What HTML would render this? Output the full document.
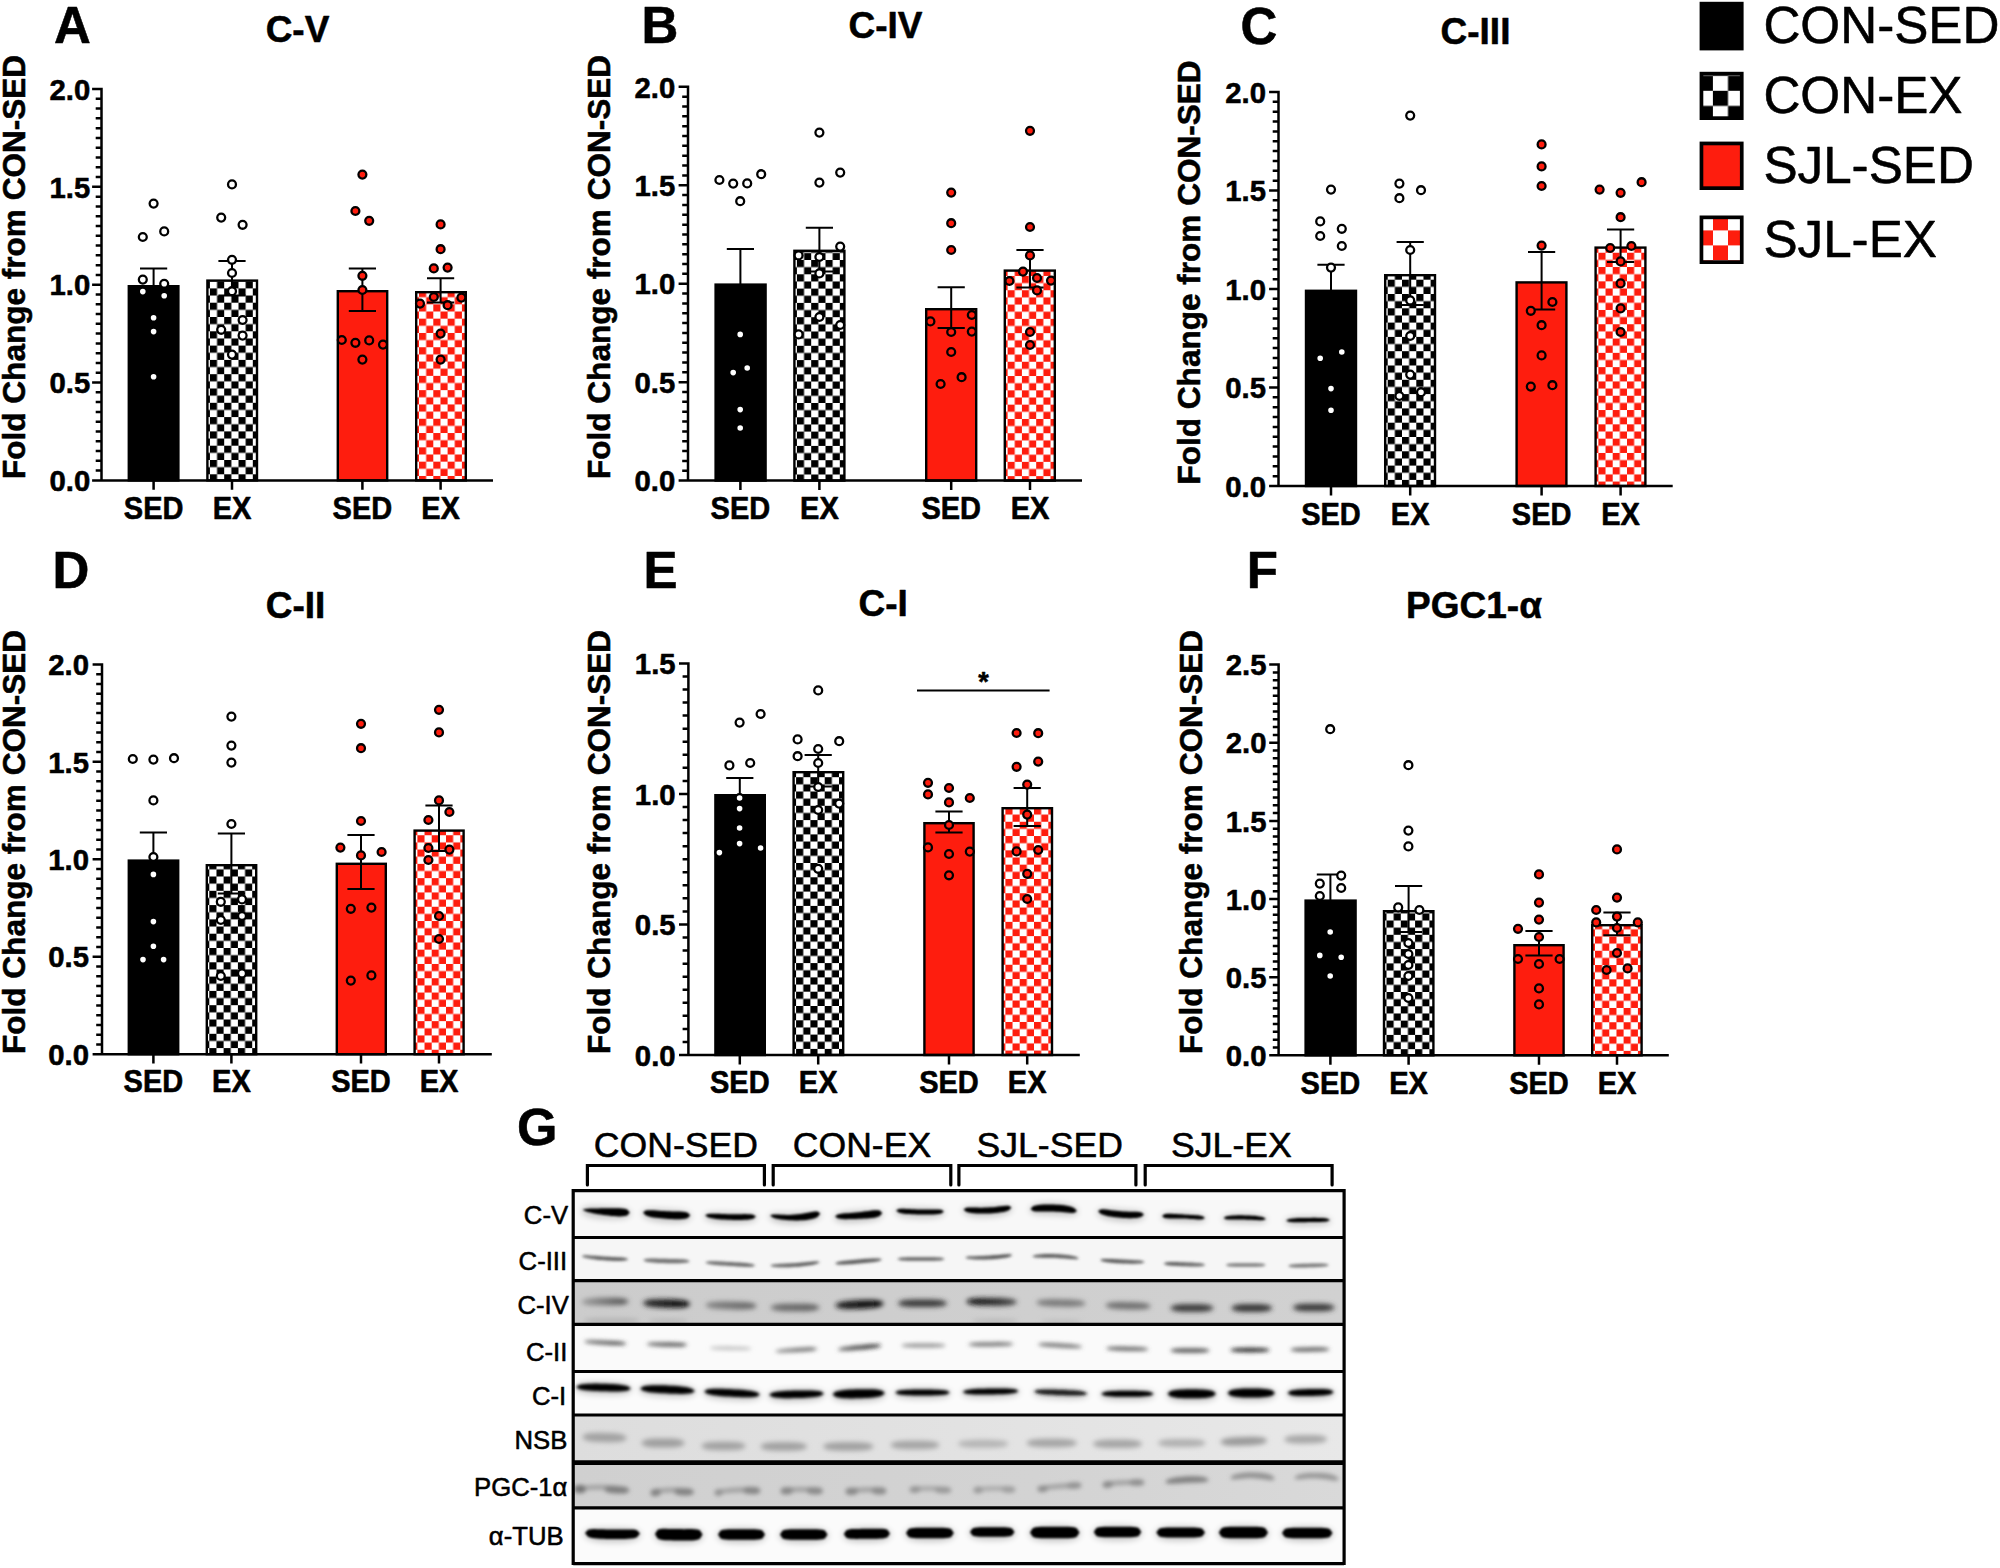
<!DOCTYPE html>
<html lang="en">
<head>
<meta charset="utf-8">
<title>Figure</title>
<style>
html,body{margin:0;padding:0;background:#fff;}
svg{display:block;font-family:"Liberation Sans", Arial, Helvetica, sans-serif;fill:#000;}
text{stroke:#000;stroke-width:0.55px;stroke-linejoin:round;}
</style>
</head>
<body>
<svg width="2000" height="1568" viewBox="0 0 2000 1568">
<rect width="2000" height="1568" fill="#fff"/>
<defs>
<pattern id="ck1" patternUnits="userSpaceOnUse" x="209.9" y="474.3" width="14.3" height="14.3"><rect width="14.3" height="14.3" fill="#fff"/><rect x="0" y="0" width="7.15" height="7.15" fill="#000"/><rect x="7.15" y="7.15" width="7.15" height="7.15" fill="#000"/></pattern>
<pattern id="ck2" patternUnits="userSpaceOnUse" x="419" y="475.95" width="14.3" height="14.3"><rect width="14.3" height="14.3" fill="#fff"/><rect x="0" y="0" width="7.15" height="7.15" fill="#fe1d0e"/><rect x="7.15" y="7.15" width="7.15" height="7.15" fill="#fe1d0e"/></pattern>
<pattern id="ck3" patternUnits="userSpaceOnUse" x="796.9" y="474.5" width="14.3" height="14.3"><rect width="14.3" height="14.3" fill="#fff"/><rect x="0" y="0" width="7.15" height="7.15" fill="#000"/><rect x="7.15" y="7.15" width="7.15" height="7.15" fill="#000"/></pattern>
<pattern id="ck4" patternUnits="userSpaceOnUse" x="1007.6" y="476.15" width="14.3" height="14.3"><rect width="14.3" height="14.3" fill="#fff"/><rect x="0" y="0" width="7.15" height="7.15" fill="#fe1d0e"/><rect x="7.15" y="7.15" width="7.15" height="7.15" fill="#fe1d0e"/></pattern>
<pattern id="ck5" patternUnits="userSpaceOnUse" x="1387.7" y="479.9" width="14.3" height="14.3"><rect width="14.3" height="14.3" fill="#fff"/><rect x="0" y="0" width="7.15" height="7.15" fill="#000"/><rect x="7.15" y="7.15" width="7.15" height="7.15" fill="#000"/></pattern>
<pattern id="ck6" patternUnits="userSpaceOnUse" x="1598.4" y="481.55" width="14.3" height="14.3"><rect width="14.3" height="14.3" fill="#fff"/><rect x="0" y="0" width="7.15" height="7.15" fill="#fe1d0e"/><rect x="7.15" y="7.15" width="7.15" height="7.15" fill="#fe1d0e"/></pattern>
<pattern id="ck7" patternUnits="userSpaceOnUse" x="209.3" y="1048.1" width="14.3" height="14.3"><rect width="14.3" height="14.3" fill="#fff"/><rect x="0" y="0" width="7.15" height="7.15" fill="#000"/><rect x="7.15" y="7.15" width="7.15" height="7.15" fill="#000"/></pattern>
<pattern id="ck8" patternUnits="userSpaceOnUse" x="417.4" y="1049.75" width="14.3" height="14.3"><rect width="14.3" height="14.3" fill="#fff"/><rect x="0" y="0" width="7.15" height="7.15" fill="#fe1d0e"/><rect x="7.15" y="7.15" width="7.15" height="7.15" fill="#fe1d0e"/></pattern>
<pattern id="ck9" patternUnits="userSpaceOnUse" x="796.1" y="1048.9" width="14.3" height="14.3"><rect width="14.3" height="14.3" fill="#fff"/><rect x="0" y="0" width="7.15" height="7.15" fill="#000"/><rect x="7.15" y="7.15" width="7.15" height="7.15" fill="#000"/></pattern>
<pattern id="ck10" patternUnits="userSpaceOnUse" x="1005.4" y="1050.55" width="14.3" height="14.3"><rect width="14.3" height="14.3" fill="#fff"/><rect x="0" y="0" width="7.15" height="7.15" fill="#fe1d0e"/><rect x="7.15" y="7.15" width="7.15" height="7.15" fill="#fe1d0e"/></pattern>
<pattern id="ck11" patternUnits="userSpaceOnUse" x="1386.5" y="1049.2" width="14.3" height="14.3"><rect width="14.3" height="14.3" fill="#fff"/><rect x="0" y="0" width="7.15" height="7.15" fill="#000"/><rect x="7.15" y="7.15" width="7.15" height="7.15" fill="#000"/></pattern>
<pattern id="ck12" patternUnits="userSpaceOnUse" x="1595" y="1050.85" width="14.3" height="14.3"><rect width="14.3" height="14.3" fill="#fff"/><rect x="0" y="0" width="7.15" height="7.15" fill="#fe1d0e"/><rect x="7.15" y="7.15" width="7.15" height="7.15" fill="#fe1d0e"/></pattern>
<pattern id="ck13" patternUnits="userSpaceOnUse" x="1712.9" y="90.8" width="30.2" height="30.2"><rect width="30.2" height="30.2" fill="#fff"/><rect x="0" y="0" width="15.1" height="15.1" fill="#000"/><rect x="15.1" y="15.1" width="15.1" height="15.1" fill="#000"/></pattern>
<pattern id="ck14" patternUnits="userSpaceOnUse" x="1713" y="215.4" width="30" height="30"><rect width="30" height="30" fill="#fff"/><rect x="0" y="0" width="15" height="15" fill="#fe1d0e"/><rect x="15" y="15" width="15" height="15" fill="#fe1d0e"/></pattern>
<filter id="bl0" filterUnits="userSpaceOnUse" x="540" y="1170" width="840" height="400"><feGaussianBlur stdDeviation="1.25"/></filter>
<clipPath id="rc0"><rect x="573.2" y="1190.6" width="770.9" height="46.9"/></clipPath>
<filter id="bl1" filterUnits="userSpaceOnUse" x="540" y="1170" width="840" height="400"><feGaussianBlur stdDeviation="3.2"/></filter>
<filter id="bl2" filterUnits="userSpaceOnUse" x="540" y="1170" width="840" height="400"><feGaussianBlur stdDeviation="1.6"/></filter>
<clipPath id="rc1"><rect x="573.2" y="1237.5" width="770.9" height="43.2"/></clipPath>
<linearGradient id="bg1" gradientUnits="userSpaceOnUse" x1="581.5" x2="628.5" y1="0" y2="0"><stop offset="0" stop-color="#676767"/><stop offset="1" stop-color="#464646"/></linearGradient>
<linearGradient id="bg2" gradientUnits="userSpaceOnUse" x1="705" x2="755.5" y1="0" y2="0"><stop offset="0" stop-color="#707070"/><stop offset="1" stop-color="#5e5e5e"/></linearGradient>
<linearGradient id="bg3" gradientUnits="userSpaceOnUse" x1="770" x2="820" y1="0" y2="0"><stop offset="0" stop-color="#6e6e6e"/><stop offset="1" stop-color="#4c4c4c"/></linearGradient>
<linearGradient id="bg4" gradientUnits="userSpaceOnUse" x1="965" x2="1012.5" y1="0" y2="0"><stop offset="0" stop-color="#696969"/><stop offset="1" stop-color="#3b3b3b"/></linearGradient>
<linearGradient id="bg5" gradientUnits="userSpaceOnUse" x1="1100" x2="1145" y1="0" y2="0"><stop offset="0" stop-color="#4c4c4c"/><stop offset="1" stop-color="#646464"/></linearGradient>
<linearGradient id="bg6" gradientUnits="userSpaceOnUse" x1="1163.5" x2="1205.5" y1="0" y2="0"><stop offset="0" stop-color="#545454"/><stop offset="1" stop-color="#707070"/></linearGradient>
<filter id="bl3" filterUnits="userSpaceOnUse" x="540" y="1170" width="840" height="400"><feGaussianBlur stdDeviation="2.5"/></filter>
<clipPath id="rc2"><rect x="573.2" y="1280.7" width="770.9" height="43.6"/></clipPath>
<linearGradient id="bg7" gradientUnits="userSpaceOnUse" x1="581" x2="629" y1="0" y2="0"><stop offset="0" stop-color="#9e9e9e"/><stop offset="1" stop-color="#4e4e4e"/></linearGradient>
<linearGradient id="bg8" gradientUnits="userSpaceOnUse" x1="642.5" x2="690.5" y1="0" y2="0"><stop offset="0" stop-color="#2e2e2e"/><stop offset="1" stop-color="#000000"/></linearGradient>
<linearGradient id="bg9" gradientUnits="userSpaceOnUse" x1="705" x2="757" y1="0" y2="0"><stop offset="0" stop-color="#858585"/><stop offset="1" stop-color="#626262"/></linearGradient>
<linearGradient id="bg10" gradientUnits="userSpaceOnUse" x1="770" x2="820" y1="0" y2="0"><stop offset="0" stop-color="#707070"/><stop offset="1" stop-color="#606060"/></linearGradient>
<linearGradient id="bg11" gradientUnits="userSpaceOnUse" x1="835" x2="884" y1="0" y2="0"><stop offset="0" stop-color="#212121"/><stop offset="1" stop-color="#000000"/></linearGradient>
<linearGradient id="bg12" gradientUnits="userSpaceOnUse" x1="966" x2="1017.5" y1="0" y2="0"><stop offset="0" stop-color="#070707"/><stop offset="1" stop-color="#474747"/></linearGradient>
<filter id="bl4" filterUnits="userSpaceOnUse" x="540" y="1170" width="840" height="400"><feGaussianBlur stdDeviation="2.0"/></filter>
<clipPath id="rc3"><rect x="573.2" y="1324.3" width="770.9" height="47.2"/></clipPath>
<linearGradient id="bg13" gradientUnits="userSpaceOnUse" x1="583.8" x2="626.5" y1="0" y2="0"><stop offset="0" stop-color="#717171"/><stop offset="1" stop-color="#3a3a3a"/></linearGradient>
<linearGradient id="bg14" gradientUnits="userSpaceOnUse" x1="646.5" x2="687.5" y1="0" y2="0"><stop offset="0" stop-color="#6a6a6a"/><stop offset="1" stop-color="#444444"/></linearGradient>
<linearGradient id="bg15" gradientUnits="userSpaceOnUse" x1="775" x2="817.5" y1="0" y2="0"><stop offset="0" stop-color="#8f8f8f"/><stop offset="1" stop-color="#525252"/></linearGradient>
<linearGradient id="bg16" gradientUnits="userSpaceOnUse" x1="837.5" x2="881.5" y1="0" y2="0"><stop offset="0" stop-color="#646464"/><stop offset="1" stop-color="#202020"/></linearGradient>
<filter id="bl5" filterUnits="userSpaceOnUse" x="540" y="1170" width="840" height="400"><feGaussianBlur stdDeviation="1.4"/></filter>
<clipPath id="rc4"><rect x="573.2" y="1371.5" width="770.9" height="43.5"/></clipPath>
<filter id="bl6" filterUnits="userSpaceOnUse" x="540" y="1170" width="840" height="400"><feGaussianBlur stdDeviation="2.9"/></filter>
<clipPath id="rc5"><rect x="573.2" y="1415" width="770.9" height="47.7"/></clipPath>
<filter id="bl7" filterUnits="userSpaceOnUse" x="540" y="1170" width="840" height="400"><feGaussianBlur stdDeviation="2.1"/></filter>
<clipPath id="rc6"><rect x="573.2" y="1462.7" width="770.9" height="45.1"/></clipPath>
<filter id="bl8" filterUnits="userSpaceOnUse" x="540" y="1170" width="840" height="400"><feGaussianBlur stdDeviation="1.2"/></filter>
<clipPath id="rc7"><rect x="573.2" y="1507.8" width="770.9" height="55.8"/></clipPath>
</defs>
<g id="panelA">
<rect x="128.8" y="286.2" width="49.6" height="194.2" fill="#000" stroke="#000" stroke-width="2.4"/>
<rect x="207.4" y="280.6" width="49.6" height="199.8" fill="url(#ck1)" stroke="#000" stroke-width="2.4"/>
<rect x="337.8" y="291.2" width="49.4" height="189.2" fill="#fe1d0e" stroke="#000" stroke-width="2.4"/>
<rect x="416.2" y="292.2" width="49.6" height="188.2" fill="url(#ck2)" stroke="#000" stroke-width="2.4"/>
<path d="M153.6 286V268.4M140 268.4H167.2M232 295.6V261M218.4 261H245.6M218.4 295.6H245.6M362.4 311V268.4M348.8 268.4H376M348.8 311H376M440.6 302.4V278.2M427 278.2H454.2M427 302.4H454.2" fill="none" stroke="#000" stroke-width="2.0"/>
<path d="M101.5 87.75V480.4M92.1 480.4H493M101.5 470.61h-5.8M101.5 460.83h-5.8M101.5 451.04h-5.8M101.5 441.26h-5.8M101.5 431.47h-5.8M101.5 421.69h-5.8M101.5 411.9h-5.8M101.5 402.12h-5.8M101.5 392.33h-5.8M101.5 382.55h-9.4M101.5 372.76h-5.8M101.5 362.98h-5.8M101.5 353.19h-5.8M101.5 343.41h-5.8M101.5 333.62h-5.8M101.5 323.84h-5.8M101.5 314.05h-5.8M101.5 304.27h-5.8M101.5 294.49h-5.8M101.5 284.7h-9.4M101.5 274.91h-5.8M101.5 265.13h-5.8M101.5 255.34h-5.8M101.5 245.56h-5.8M101.5 235.77h-5.8M101.5 225.99h-5.8M101.5 216.2h-5.8M101.5 206.42h-5.8M101.5 196.63h-5.8M101.5 186.85h-9.4M101.5 177.06h-5.8M101.5 167.28h-5.8M101.5 157.49h-5.8M101.5 147.71h-5.8M101.5 137.93h-5.8M101.5 128.14h-5.8M101.5 118.35h-5.8M101.5 108.57h-5.8M101.5 98.78h-5.8M101.5 89h-9.4M153.6 480.4v9.4M232 480.4v9.4M362.4 480.4v9.4M440.6 480.4v9.4" fill="none" stroke="#000" stroke-width="2.5"/>
<g fill="#fff" stroke="#000" stroke-width="2.3"><circle cx="153.6" cy="203.6" r="3.95"/><circle cx="142.8" cy="237" r="3.95"/><circle cx="164.2" cy="231.4" r="3.95"/><circle cx="142.8" cy="279.6" r="3.95"/><circle cx="164.2" cy="283.8" r="3.95"/><circle cx="142.8" cy="291.6" r="3.95"/><circle cx="164.2" cy="295.8" r="3.95"/><circle cx="153.6" cy="317.8" r="3.95"/><circle cx="153.6" cy="331.6" r="3.95"/><circle cx="153.6" cy="376.8" r="3.95"/></g>
<g fill="#fff" stroke="#000" stroke-width="2.3"><circle cx="232" cy="184.4" r="3.95"/><circle cx="221.2" cy="217.6" r="3.95"/><circle cx="242.6" cy="224.8" r="3.95"/><circle cx="232" cy="259.8" r="3.95"/><circle cx="232" cy="273" r="3.95"/><circle cx="232" cy="291.2" r="3.95"/><circle cx="242.6" cy="320" r="3.95"/><circle cx="221.2" cy="329.8" r="3.95"/><circle cx="242.6" cy="335.6" r="3.95"/><circle cx="232" cy="354.6" r="3.95"/></g>
<g fill="#fe1d0e" stroke="#000" stroke-width="2.3"><circle cx="362.4" cy="174.6" r="3.95"/><circle cx="355.4" cy="211" r="3.95"/><circle cx="369.2" cy="220.8" r="3.95"/><circle cx="362.4" cy="275.8" r="3.95"/><circle cx="362.4" cy="290" r="3.95"/><circle cx="341.8" cy="340" r="3.95"/><circle cx="355.4" cy="342.8" r="3.95"/><circle cx="369.2" cy="340.4" r="3.95"/><circle cx="383" cy="344.6" r="3.95"/><circle cx="362.4" cy="359.6" r="3.95"/></g>
<g fill="#fe1d0e" stroke="#000" stroke-width="2.3"><circle cx="440.6" cy="224.4" r="3.95"/><circle cx="440.6" cy="249.2" r="3.95"/><circle cx="433.8" cy="268.4" r="3.95"/><circle cx="447.6" cy="267.6" r="3.95"/><circle cx="433.8" cy="297" r="3.95"/><circle cx="461.4" cy="297.6" r="3.95"/><circle cx="420" cy="303.6" r="3.95"/><circle cx="447.6" cy="305.2" r="3.95"/><circle cx="440.6" cy="333.6" r="3.95"/><circle cx="440.6" cy="359.6" r="3.95"/></g>
<g font-size="29.3" font-weight="bold" text-anchor="end">
<text transform="translate(90.3 491.1) scale(1 1.03)">0.0</text>
<text transform="translate(90.3 393.25) scale(1 1.03)">0.5</text>
<text transform="translate(90.3 295.4) scale(1 1.03)">1.0</text>
<text transform="translate(90.3 197.55) scale(1 1.03)">1.5</text>
<text transform="translate(90.3 99.7) scale(1 1.03)">2.0</text>
</g>
<g font-size="29.0" font-weight="bold" text-anchor="middle">
<text transform="translate(153.6 518.7) scale(1 1.05)">SED</text>
<text transform="translate(232 518.7) scale(1 1.05)">EX</text>
<text transform="translate(362.4 518.7) scale(1 1.05)">SED</text>
<text transform="translate(440.6 518.7) scale(1 1.05)">EX</text>
</g>
<text transform="translate(24.8 479) rotate(-90)" font-size="31.55" font-weight="bold">Fold Change from CON-SED</text>
<text x="297.5" y="42" font-size="37.0" font-weight="bold" text-anchor="middle">C-V</text>
<text x="54" y="43" font-size="51.0" font-weight="bold">A</text>
</g>
<g id="panelB">
<rect x="715.6" y="284.6" width="50" height="196" fill="#000" stroke="#000" stroke-width="2.4"/>
<rect x="794.4" y="250.8" width="50" height="229.8" fill="url(#ck3)" stroke="#000" stroke-width="2.4"/>
<rect x="926.2" y="309.2" width="50" height="171.4" fill="#fe1d0e" stroke="#000" stroke-width="2.4"/>
<rect x="1004.8" y="270.6" width="50" height="210" fill="url(#ck4)" stroke="#000" stroke-width="2.4"/>
<path d="M740.4 284.4V249M726.8 249H754M819.4 271.4V227.8M805.8 227.8H833M805.8 271.4H833M951.2 328V287.2M937.6 287.2H964.8M937.6 328H964.8M1030 287.6V250M1016.4 250H1043.6M1016.4 287.6H1043.6" fill="none" stroke="#000" stroke-width="2.0"/>
<path d="M688 85.55V480.6M678.6 480.6H1082M688 470.75h-5.8M688 460.91h-5.8M688 451.06h-5.8M688 441.22h-5.8M688 431.38h-5.8M688 421.53h-5.8M688 411.69h-5.8M688 401.84h-5.8M688 392h-5.8M688 382.15h-9.4M688 372.31h-5.8M688 362.46h-5.8M688 352.62h-5.8M688 342.77h-5.8M688 332.93h-5.8M688 323.08h-5.8M688 313.24h-5.8M688 303.39h-5.8M688 293.55h-5.8M688 283.7h-9.4M688 273.86h-5.8M688 264.01h-5.8M688 254.16h-5.8M688 244.32h-5.8M688 234.48h-5.8M688 224.63h-5.8M688 214.79h-5.8M688 204.94h-5.8M688 195.09h-5.8M688 185.25h-9.4M688 175.41h-5.8M688 165.56h-5.8M688 155.71h-5.8M688 145.87h-5.8M688 136.03h-5.8M688 126.18h-5.8M688 116.33h-5.8M688 106.49h-5.8M688 96.64h-5.8M688 86.8h-9.4M740.4 480.6v9.4M819.4 480.6v9.4M951.2 480.6v9.4M1030 480.6v9.4" fill="none" stroke="#000" stroke-width="2.5"/>
<g fill="#fff" stroke="#000" stroke-width="2.3"><circle cx="719.4" cy="180" r="3.95"/><circle cx="733.2" cy="183.6" r="3.95"/><circle cx="747.2" cy="183.4" r="3.95"/><circle cx="761.2" cy="174.2" r="3.95"/><circle cx="740.2" cy="201.2" r="3.95"/><circle cx="740.2" cy="334.4" r="3.95"/><circle cx="747.2" cy="368" r="3.95"/><circle cx="733.2" cy="372.6" r="3.95"/><circle cx="740.2" cy="409.6" r="3.95"/><circle cx="740.2" cy="428" r="3.95"/></g>
<g fill="#fff" stroke="#000" stroke-width="2.3"><circle cx="819.4" cy="132.6" r="3.95"/><circle cx="819.4" cy="182.6" r="3.95"/><circle cx="840.2" cy="172.6" r="3.95"/><circle cx="840.2" cy="246.6" r="3.95"/><circle cx="798.6" cy="255.4" r="3.95"/><circle cx="819.4" cy="257" r="3.95"/><circle cx="819.4" cy="273.4" r="3.95"/><circle cx="819.4" cy="317" r="3.95"/><circle cx="840.2" cy="325" r="3.95"/><circle cx="798.6" cy="334.4" r="3.95"/></g>
<g fill="#fe1d0e" stroke="#000" stroke-width="2.3"><circle cx="951.2" cy="192.6" r="3.95"/><circle cx="951.2" cy="223.2" r="3.95"/><circle cx="951.2" cy="250" r="3.95"/><circle cx="971.8" cy="315" r="3.95"/><circle cx="930.4" cy="321.4" r="3.95"/><circle cx="951.2" cy="332" r="3.95"/><circle cx="971.8" cy="331.6" r="3.95"/><circle cx="951.2" cy="352" r="3.95"/><circle cx="961.6" cy="377.2" r="3.95"/><circle cx="940.6" cy="384" r="3.95"/></g>
<g fill="#fe1d0e" stroke="#000" stroke-width="2.3"><circle cx="1030" cy="130.8" r="3.95"/><circle cx="1030" cy="227" r="3.95"/><circle cx="1030" cy="255.4" r="3.95"/><circle cx="1023" cy="271.6" r="3.95"/><circle cx="1037" cy="278" r="3.95"/><circle cx="1009.4" cy="281" r="3.95"/><circle cx="1051" cy="280.6" r="3.95"/><circle cx="1037" cy="290.4" r="3.95"/><circle cx="1030" cy="332" r="3.95"/><circle cx="1030" cy="345" r="3.95"/></g>
<g font-size="29.3" font-weight="bold" text-anchor="end">
<text transform="translate(675.2 491.3) scale(1 1.03)">0.0</text>
<text transform="translate(675.2 392.85) scale(1 1.03)">0.5</text>
<text transform="translate(675.2 294.4) scale(1 1.03)">1.0</text>
<text transform="translate(675.2 195.95) scale(1 1.03)">1.5</text>
<text transform="translate(675.2 97.5) scale(1 1.03)">2.0</text>
</g>
<g font-size="29.0" font-weight="bold" text-anchor="middle">
<text transform="translate(740.4 519) scale(1 1.05)">SED</text>
<text transform="translate(819.4 519) scale(1 1.05)">EX</text>
<text transform="translate(951.2 519) scale(1 1.05)">SED</text>
<text transform="translate(1030 519) scale(1 1.05)">EX</text>
</g>
<text transform="translate(610 479) rotate(-90)" font-size="31.55" font-weight="bold">Fold Change from CON-SED</text>
<text x="885.5" y="38" font-size="37.0" font-weight="bold" text-anchor="middle">C-IV</text>
<text x="641.4" y="43" font-size="51.0" font-weight="bold">B</text>
</g>
<g id="panelC">
<rect x="1306" y="290.8" width="50" height="195.2" fill="#000" stroke="#000" stroke-width="2.4"/>
<rect x="1385.2" y="275.2" width="49.8" height="210.8" fill="url(#ck5)" stroke="#000" stroke-width="2.4"/>
<rect x="1516.6" y="282.4" width="49.8" height="203.6" fill="#fe1d0e" stroke="#000" stroke-width="2.4"/>
<rect x="1595.6" y="247.6" width="49.8" height="238.4" fill="url(#ck6)" stroke="#000" stroke-width="2.4"/>
<path d="M1331 290.6V264.8M1317.4 264.8H1344.6M1410.2 305V242M1396.6 242H1423.8M1396.6 305H1423.8M1541.6 309.4V252M1528 252H1555.2M1528 309.4H1555.2M1620.6 262V229.6M1607 229.6H1634.2M1607 262H1634.2" fill="none" stroke="#000" stroke-width="2.0"/>
<path d="M1278.5 90.75V486M1269.1 486H1672.7M1278.5 476.15h-5.8M1278.5 466.3h-5.8M1278.5 456.45h-5.8M1278.5 446.6h-5.8M1278.5 436.75h-5.8M1278.5 426.9h-5.8M1278.5 417.05h-5.8M1278.5 407.2h-5.8M1278.5 397.35h-5.8M1278.5 387.5h-9.4M1278.5 377.65h-5.8M1278.5 367.8h-5.8M1278.5 357.95h-5.8M1278.5 348.1h-5.8M1278.5 338.25h-5.8M1278.5 328.4h-5.8M1278.5 318.55h-5.8M1278.5 308.7h-5.8M1278.5 298.85h-5.8M1278.5 289h-9.4M1278.5 279.15h-5.8M1278.5 269.3h-5.8M1278.5 259.45h-5.8M1278.5 249.6h-5.8M1278.5 239.75h-5.8M1278.5 229.9h-5.8M1278.5 220.05h-5.8M1278.5 210.2h-5.8M1278.5 200.35h-5.8M1278.5 190.5h-9.4M1278.5 180.65h-5.8M1278.5 170.8h-5.8M1278.5 160.95h-5.8M1278.5 151.1h-5.8M1278.5 141.25h-5.8M1278.5 131.4h-5.8M1278.5 121.55h-5.8M1278.5 111.7h-5.8M1278.5 101.85h-5.8M1278.5 92h-9.4M1331 486v9.4M1410.2 486v9.4M1541.6 486v9.4M1620.6 486v9.4" fill="none" stroke="#000" stroke-width="2.5"/>
<g fill="#fff" stroke="#000" stroke-width="2.3"><circle cx="1331" cy="189.6" r="3.95"/><circle cx="1320.2" cy="221.4" r="3.95"/><circle cx="1341.8" cy="228.8" r="3.95"/><circle cx="1320.2" cy="236" r="3.95"/><circle cx="1341.8" cy="246" r="3.95"/><circle cx="1331" cy="267.6" r="3.95"/><circle cx="1341.8" cy="352" r="3.95"/><circle cx="1320.2" cy="358.2" r="3.95"/><circle cx="1331" cy="388.6" r="3.95"/><circle cx="1331" cy="410.2" r="3.95"/></g>
<g fill="#fff" stroke="#000" stroke-width="2.3"><circle cx="1410.2" cy="115.6" r="3.95"/><circle cx="1399.4" cy="183.6" r="3.95"/><circle cx="1421" cy="190.2" r="3.95"/><circle cx="1399.4" cy="198.2" r="3.95"/><circle cx="1410.2" cy="250" r="3.95"/><circle cx="1410.2" cy="300.4" r="3.95"/><circle cx="1410.2" cy="336" r="3.95"/><circle cx="1410.2" cy="374.6" r="3.95"/><circle cx="1421" cy="392.2" r="3.95"/><circle cx="1399.4" cy="396" r="3.95"/></g>
<g fill="#fe1d0e" stroke="#000" stroke-width="2.3"><circle cx="1541.6" cy="144.4" r="3.95"/><circle cx="1541.6" cy="166.4" r="3.95"/><circle cx="1541.6" cy="186" r="3.95"/><circle cx="1541.6" cy="245.6" r="3.95"/><circle cx="1552.4" cy="302" r="3.95"/><circle cx="1530.8" cy="310.8" r="3.95"/><circle cx="1541.6" cy="325.2" r="3.95"/><circle cx="1541.6" cy="355.4" r="3.95"/><circle cx="1530.8" cy="386.6" r="3.95"/><circle cx="1552.4" cy="385.2" r="3.95"/></g>
<g fill="#fe1d0e" stroke="#000" stroke-width="2.3"><circle cx="1641.6" cy="182.2" r="3.95"/><circle cx="1599.6" cy="189.6" r="3.95"/><circle cx="1620.6" cy="192.8" r="3.95"/><circle cx="1620.6" cy="217.2" r="3.95"/><circle cx="1610.2" cy="248" r="3.95"/><circle cx="1631.4" cy="246" r="3.95"/><circle cx="1620.6" cy="261.4" r="3.95"/><circle cx="1620.6" cy="283.4" r="3.95"/><circle cx="1620.6" cy="308.4" r="3.95"/><circle cx="1620.6" cy="332" r="3.95"/></g>
<g font-size="29.3" font-weight="bold" text-anchor="end">
<text transform="translate(1266 496.7) scale(1 1.03)">0.0</text>
<text transform="translate(1266 398.2) scale(1 1.03)">0.5</text>
<text transform="translate(1266 299.7) scale(1 1.03)">1.0</text>
<text transform="translate(1266 201.2) scale(1 1.03)">1.5</text>
<text transform="translate(1266 102.7) scale(1 1.03)">2.0</text>
</g>
<g font-size="29.0" font-weight="bold" text-anchor="middle">
<text transform="translate(1331 525) scale(1 1.05)">SED</text>
<text transform="translate(1410.2 525) scale(1 1.05)">EX</text>
<text transform="translate(1541.6 525) scale(1 1.05)">SED</text>
<text transform="translate(1620.6 525) scale(1 1.05)">EX</text>
</g>
<text transform="translate(1200.2 484.5) rotate(-90)" font-size="31.55" font-weight="bold">Fold Change from CON-SED</text>
<text x="1475.5" y="44.4" font-size="37.0" font-weight="bold" text-anchor="middle">C-III</text>
<text x="1240.6" y="43.6" font-size="51.0" font-weight="bold">C</text>
</g>
<g id="panelD">
<rect x="128.8" y="860.6" width="49.4" height="193.6" fill="#000" stroke="#000" stroke-width="2.4"/>
<rect x="206.8" y="865.2" width="49.4" height="189" fill="url(#ck7)" stroke="#000" stroke-width="2.4"/>
<rect x="336.8" y="863.8" width="49" height="190.4" fill="#fe1d0e" stroke="#000" stroke-width="2.4"/>
<rect x="414.6" y="830.6" width="49" height="223.6" fill="url(#ck8)" stroke="#000" stroke-width="2.4"/>
<path d="M153.4 860.4V832.4M139.8 832.4H167M231.4 893.4V833.4M217.8 833.4H245M217.8 893.4H245M361 889V835M347.4 835H374.6M347.4 889H374.6M439 851V805.6M425.4 805.6H452.6M425.4 851H452.6" fill="none" stroke="#000" stroke-width="2.0"/>
<path d="M102 663.15V1054.2M92.6 1054.2H491.8M102 1044.46h-5.8M102 1034.71h-5.8M102 1024.97h-5.8M102 1015.22h-5.8M102 1005.48h-5.8M102 995.73h-5.8M102 985.99h-5.8M102 976.24h-5.8M102 966.5h-5.8M102 956.75h-9.4M102 947h-5.8M102 937.26h-5.8M102 927.51h-5.8M102 917.77h-5.8M102 908.03h-5.8M102 898.28h-5.8M102 888.53h-5.8M102 878.79h-5.8M102 869.04h-5.8M102 859.3h-9.4M102 849.56h-5.8M102 839.81h-5.8M102 830.06h-5.8M102 820.32h-5.8M102 810.58h-5.8M102 800.83h-5.8M102 791.09h-5.8M102 781.34h-5.8M102 771.6h-5.8M102 761.85h-9.4M102 752.11h-5.8M102 742.36h-5.8M102 732.62h-5.8M102 722.87h-5.8M102 713.12h-5.8M102 703.38h-5.8M102 693.63h-5.8M102 683.89h-5.8M102 674.14h-5.8M102 664.4h-9.4M153.4 1054.2v9.4M231.4 1054.2v9.4M361 1054.2v9.4M439 1054.2v9.4" fill="none" stroke="#000" stroke-width="2.5"/>
<g fill="#fff" stroke="#000" stroke-width="2.3"><circle cx="132.8" cy="759" r="3.95"/><circle cx="153.4" cy="759.6" r="3.95"/><circle cx="174" cy="758.2" r="3.95"/><circle cx="153.4" cy="800.4" r="3.95"/><circle cx="153.4" cy="857" r="3.95"/><circle cx="153.4" cy="874.4" r="3.95"/><circle cx="153.4" cy="921.6" r="3.95"/><circle cx="153.4" cy="946.2" r="3.95"/><circle cx="143" cy="959.6" r="3.95"/><circle cx="163.6" cy="959.6" r="3.95"/></g>
<g fill="#fff" stroke="#000" stroke-width="2.3"><circle cx="231.4" cy="716.6" r="3.95"/><circle cx="231.4" cy="745.6" r="3.95"/><circle cx="231.4" cy="762.6" r="3.95"/><circle cx="231.4" cy="824" r="3.95"/><circle cx="220.8" cy="901.8" r="3.95"/><circle cx="242" cy="899.4" r="3.95"/><circle cx="220.8" cy="920" r="3.95"/><circle cx="242" cy="916" r="3.95"/><circle cx="220.8" cy="976" r="3.95"/><circle cx="242" cy="973.4" r="3.95"/></g>
<g fill="#fe1d0e" stroke="#000" stroke-width="2.3"><circle cx="361" cy="723.8" r="3.95"/><circle cx="361" cy="748.2" r="3.95"/><circle cx="361" cy="821" r="3.95"/><circle cx="340.4" cy="847.6" r="3.95"/><circle cx="381.6" cy="852" r="3.95"/><circle cx="361" cy="855.4" r="3.95"/><circle cx="350.8" cy="908.8" r="3.95"/><circle cx="371.4" cy="907.6" r="3.95"/><circle cx="350.8" cy="980.6" r="3.95"/><circle cx="371.4" cy="975.4" r="3.95"/></g>
<g fill="#fe1d0e" stroke="#000" stroke-width="2.3"><circle cx="439" cy="709.8" r="3.95"/><circle cx="439" cy="732.4" r="3.95"/><circle cx="439" cy="800.4" r="3.95"/><circle cx="449.4" cy="812" r="3.95"/><circle cx="428.4" cy="820" r="3.95"/><circle cx="428.4" cy="848" r="3.95"/><circle cx="449.4" cy="849.6" r="3.95"/><circle cx="428.4" cy="860" r="3.95"/><circle cx="439" cy="916" r="3.95"/><circle cx="439" cy="939" r="3.95"/></g>
<g font-size="29.3" font-weight="bold" text-anchor="end">
<text transform="translate(89 1064.9) scale(1 1.03)">0.0</text>
<text transform="translate(89 967.45) scale(1 1.03)">0.5</text>
<text transform="translate(89 870) scale(1 1.03)">1.0</text>
<text transform="translate(89 772.55) scale(1 1.03)">1.5</text>
<text transform="translate(89 675.1) scale(1 1.03)">2.0</text>
</g>
<g font-size="29.0" font-weight="bold" text-anchor="middle">
<text transform="translate(153.4 1092) scale(1 1.05)">SED</text>
<text transform="translate(231.4 1092) scale(1 1.05)">EX</text>
<text transform="translate(361 1092) scale(1 1.05)">SED</text>
<text transform="translate(439 1092) scale(1 1.05)">EX</text>
</g>
<text transform="translate(24.8 1054) rotate(-90)" font-size="31.55" font-weight="bold">Fold Change from CON-SED</text>
<text x="295.5" y="617.6" font-size="37.0" font-weight="bold" text-anchor="middle">C-II</text>
<text x="52.4" y="588" font-size="51.0" font-weight="bold">D</text>
</g>
<g id="panelE">
<rect x="715.4" y="795.2" width="49.4" height="259.8" fill="#000" stroke="#000" stroke-width="2.4"/>
<rect x="793.6" y="772.2" width="49.6" height="282.8" fill="url(#ck9)" stroke="#000" stroke-width="2.4"/>
<rect x="924.4" y="823.2" width="49.2" height="231.8" fill="#fe1d0e" stroke="#000" stroke-width="2.4"/>
<rect x="1002.6" y="808.2" width="49.4" height="246.8" fill="url(#ck10)" stroke="#000" stroke-width="2.4"/>
<path d="M739.8 795V778M726.2 778H753.4M818.2 786.4V755M804.6 755H831.8M804.6 786.4H831.8M949 832.4V811.4M935.4 811.4H962.6M935.4 832.4H962.6M1027.2 826V788M1013.6 788H1040.8M1013.6 826H1040.8" fill="none" stroke="#000" stroke-width="2.0"/>
<path d="M688.4 662.15V1055M679 1055H1079.8M688.4 1041.95h-5.8M688.4 1028.89h-5.8M688.4 1015.84h-5.8M688.4 1002.79h-5.8M688.4 989.73h-5.8M688.4 976.68h-5.8M688.4 963.63h-5.8M688.4 950.57h-5.8M688.4 937.52h-5.8M688.4 924.47h-9.4M688.4 911.41h-5.8M688.4 898.36h-5.8M688.4 885.31h-5.8M688.4 872.25h-5.8M688.4 859.2h-5.8M688.4 846.15h-5.8M688.4 833.09h-5.8M688.4 820.04h-5.8M688.4 806.99h-5.8M688.4 793.93h-9.4M688.4 780.88h-5.8M688.4 767.83h-5.8M688.4 754.77h-5.8M688.4 741.72h-5.8M688.4 728.67h-5.8M688.4 715.61h-5.8M688.4 702.56h-5.8M688.4 689.51h-5.8M688.4 676.45h-5.8M688.4 663.4h-9.4M739.8 1055v9.4M818.2 1055v9.4M949 1055v9.4M1027.2 1055v9.4" fill="none" stroke="#000" stroke-width="2.5"/>
<g fill="#fff" stroke="#000" stroke-width="2.3"><circle cx="760.6" cy="714" r="3.95"/><circle cx="739.6" cy="722.6" r="3.95"/><circle cx="729.4" cy="765.4" r="3.95"/><circle cx="750.2" cy="763" r="3.95"/><circle cx="739.6" cy="798" r="3.95"/><circle cx="739.6" cy="808.6" r="3.95"/><circle cx="739.6" cy="828" r="3.95"/><circle cx="739.6" cy="843.6" r="3.95"/><circle cx="760.6" cy="848" r="3.95"/><circle cx="719.4" cy="852.6" r="3.95"/></g>
<g fill="#fff" stroke="#000" stroke-width="2.3"><circle cx="818.2" cy="690.4" r="3.95"/><circle cx="797.6" cy="739.4" r="3.95"/><circle cx="839.2" cy="741.2" r="3.95"/><circle cx="818.2" cy="749" r="3.95"/><circle cx="797.6" cy="756.2" r="3.95"/><circle cx="818.2" cy="763" r="3.95"/><circle cx="818.2" cy="787" r="3.95"/><circle cx="839.2" cy="803.6" r="3.95"/><circle cx="818.2" cy="810" r="3.95"/><circle cx="818.2" cy="868.8" r="3.95"/></g>
<g fill="#fe1d0e" stroke="#000" stroke-width="2.3"><circle cx="928" cy="782.8" r="3.95"/><circle cx="949" cy="788" r="3.95"/><circle cx="928" cy="794.4" r="3.95"/><circle cx="969.8" cy="798" r="3.95"/><circle cx="949" cy="802.4" r="3.95"/><circle cx="949" cy="825" r="3.95"/><circle cx="928" cy="847.4" r="3.95"/><circle cx="969.8" cy="851.6" r="3.95"/><circle cx="949" cy="854" r="3.95"/><circle cx="949" cy="875.3" r="3.95"/></g>
<g fill="#fe1d0e" stroke="#000" stroke-width="2.3"><circle cx="1016.6" cy="733" r="3.95"/><circle cx="1038.2" cy="733.2" r="3.95"/><circle cx="1038.2" cy="761.6" r="3.95"/><circle cx="1016.6" cy="766.8" r="3.95"/><circle cx="1027.2" cy="784.6" r="3.95"/><circle cx="1027.2" cy="814.6" r="3.95"/><circle cx="1016.6" cy="851.4" r="3.95"/><circle cx="1038.2" cy="850" r="3.95"/><circle cx="1027.2" cy="873.8" r="3.95"/><circle cx="1027.2" cy="899" r="3.95"/></g>
<g font-size="29.3" font-weight="bold" text-anchor="end">
<text transform="translate(675.6 1065.7) scale(1 1.03)">0.0</text>
<text transform="translate(675.6 935.17) scale(1 1.03)">0.5</text>
<text transform="translate(675.6 804.63) scale(1 1.03)">1.0</text>
<text transform="translate(675.6 674.1) scale(1 1.03)">1.5</text>
</g>
<g font-size="29.0" font-weight="bold" text-anchor="middle">
<text transform="translate(739.8 1093.4) scale(1 1.05)">SED</text>
<text transform="translate(818.2 1093.4) scale(1 1.05)">EX</text>
<text transform="translate(949 1093.4) scale(1 1.05)">SED</text>
<text transform="translate(1027.2 1093.4) scale(1 1.05)">EX</text>
</g>
<text transform="translate(609.8 1054) rotate(-90)" font-size="31.55" font-weight="bold">Fold Change from CON-SED</text>
<text x="883.2" y="615.6" font-size="37.0" font-weight="bold" text-anchor="middle">C-I</text>
<text x="643.4" y="588" font-size="51.0" font-weight="bold">E</text>
<path d="M917 690.4H1049.6" stroke="#000" stroke-width="2" fill="none"/>
<text x="983.4" y="691" font-size="27" font-weight="bold" text-anchor="middle">*</text>
</g>
<g id="panelF">
<rect x="1305.6" y="900.6" width="50" height="154.7" fill="#000" stroke="#000" stroke-width="2.4"/>
<rect x="1384" y="911.2" width="49.4" height="144.1" fill="url(#ck11)" stroke="#000" stroke-width="2.4"/>
<rect x="1514.4" y="945.2" width="49.2" height="110.1" fill="#fe1d0e" stroke="#000" stroke-width="2.4"/>
<rect x="1592.2" y="925.2" width="49.4" height="130.1" fill="url(#ck12)" stroke="#000" stroke-width="2.4"/>
<path d="M1330.4 900.4V874.4M1316.8 874.4H1344M1408.6 932V886M1395 886H1422.2M1395 932H1422.2M1539 955.6V931M1525.4 931H1552.6M1525.4 955.6H1552.6M1617 935.2V912.4M1603.4 912.4H1630.6M1603.4 935.2H1630.6" fill="none" stroke="#000" stroke-width="2.0"/>
<path d="M1278.6 663.35V1055.3M1269.2 1055.3H1668.8M1278.6 1047.49h-5.8M1278.6 1039.67h-5.8M1278.6 1031.86h-5.8M1278.6 1024.04h-5.8M1278.6 1016.23h-5.8M1278.6 1008.42h-5.8M1278.6 1000.6h-5.8M1278.6 992.79h-5.8M1278.6 984.97h-5.8M1278.6 977.16h-9.4M1278.6 969.35h-5.8M1278.6 961.53h-5.8M1278.6 953.72h-5.8M1278.6 945.9h-5.8M1278.6 938.09h-5.8M1278.6 930.28h-5.8M1278.6 922.46h-5.8M1278.6 914.65h-5.8M1278.6 906.83h-5.8M1278.6 899.02h-9.4M1278.6 891.21h-5.8M1278.6 883.39h-5.8M1278.6 875.58h-5.8M1278.6 867.76h-5.8M1278.6 859.95h-5.8M1278.6 852.14h-5.8M1278.6 844.32h-5.8M1278.6 836.51h-5.8M1278.6 828.69h-5.8M1278.6 820.88h-9.4M1278.6 813.07h-5.8M1278.6 805.25h-5.8M1278.6 797.44h-5.8M1278.6 789.62h-5.8M1278.6 781.81h-5.8M1278.6 774h-5.8M1278.6 766.18h-5.8M1278.6 758.37h-5.8M1278.6 750.55h-5.8M1278.6 742.74h-9.4M1278.6 734.93h-5.8M1278.6 727.11h-5.8M1278.6 719.3h-5.8M1278.6 711.48h-5.8M1278.6 703.67h-5.8M1278.6 695.86h-5.8M1278.6 688.04h-5.8M1278.6 680.23h-5.8M1278.6 672.41h-5.8M1278.6 664.6h-9.4M1330.4 1055.3v9.4M1408.6 1055.3v9.4M1539 1055.3v9.4M1617 1055.3v9.4" fill="none" stroke="#000" stroke-width="2.5"/>
<g fill="#fff" stroke="#000" stroke-width="2.3"><circle cx="1330.2" cy="729.2" r="3.95"/><circle cx="1341.2" cy="875.6" r="3.95"/><circle cx="1319.8" cy="883.6" r="3.95"/><circle cx="1341.2" cy="888" r="3.95"/><circle cx="1319.8" cy="896" r="3.95"/><circle cx="1330.2" cy="932" r="3.95"/><circle cx="1319.8" cy="955.4" r="3.95"/><circle cx="1341.2" cy="957.2" r="3.95"/><circle cx="1330.2" cy="976" r="3.95"/></g>
<g fill="#fff" stroke="#000" stroke-width="2.3"><circle cx="1408.4" cy="765.2" r="3.95"/><circle cx="1408.4" cy="830.6" r="3.95"/><circle cx="1408.4" cy="846.4" r="3.95"/><circle cx="1398.2" cy="907.4" r="3.95"/><circle cx="1419.4" cy="910" r="3.95"/><circle cx="1408.4" cy="943" r="3.95"/><circle cx="1408.4" cy="954" r="3.95"/><circle cx="1408.4" cy="965" r="3.95"/><circle cx="1408.4" cy="976" r="3.95"/><circle cx="1408.4" cy="998" r="3.95"/></g>
<g fill="#fe1d0e" stroke="#000" stroke-width="2.3"><circle cx="1539" cy="874.4" r="3.95"/><circle cx="1539" cy="902.6" r="3.95"/><circle cx="1539" cy="919.6" r="3.95"/><circle cx="1518" cy="928.8" r="3.95"/><circle cx="1539" cy="937" r="3.95"/><circle cx="1518" cy="959" r="3.95"/><circle cx="1559.6" cy="959" r="3.95"/><circle cx="1539" cy="964" r="3.95"/><circle cx="1539" cy="988.4" r="3.95"/><circle cx="1539" cy="1004.4" r="3.95"/></g>
<g fill="#fe1d0e" stroke="#000" stroke-width="2.3"><circle cx="1617" cy="849.4" r="3.95"/><circle cx="1617" cy="897.6" r="3.95"/><circle cx="1596.2" cy="910" r="3.95"/><circle cx="1617" cy="916.6" r="3.95"/><circle cx="1596.2" cy="922.4" r="3.95"/><circle cx="1637.8" cy="922.4" r="3.95"/><circle cx="1617" cy="928" r="3.95"/><circle cx="1617" cy="953" r="3.95"/><circle cx="1606.6" cy="970" r="3.95"/><circle cx="1627.6" cy="968.4" r="3.95"/></g>
<g font-size="29.3" font-weight="bold" text-anchor="end">
<text transform="translate(1266.5 1066) scale(1 1.03)">0.0</text>
<text transform="translate(1266.5 987.86) scale(1 1.03)">0.5</text>
<text transform="translate(1266.5 909.72) scale(1 1.03)">1.0</text>
<text transform="translate(1266.5 831.58) scale(1 1.03)">1.5</text>
<text transform="translate(1266.5 753.44) scale(1 1.03)">2.0</text>
<text transform="translate(1266.5 675.3) scale(1 1.03)">2.5</text>
</g>
<g font-size="29.0" font-weight="bold" text-anchor="middle">
<text transform="translate(1330.4 1093.6) scale(1 1.05)">SED</text>
<text transform="translate(1408.6 1093.6) scale(1 1.05)">EX</text>
<text transform="translate(1539 1093.6) scale(1 1.05)">SED</text>
<text transform="translate(1617 1093.6) scale(1 1.05)">EX</text>
</g>
<text transform="translate(1201.6 1054) rotate(-90)" font-size="31.55" font-weight="bold">Fold Change from CON-SED</text>
<text x="1474" y="617.6" font-size="37.0" font-weight="bold" text-anchor="middle">PGC1-α</text>
<text x="1246.8" y="588" font-size="51.0" font-weight="bold">F</text>
</g>
<g id="legend">
<rect x="1701.45" y="3.65" width="40.3" height="44.9" fill="#000" stroke="#000" stroke-width="3.7"/>
<rect x="1701.45" y="73.65" width="40.3" height="44.5" fill="url(#ck13)" stroke="#000" stroke-width="3.7"/>
<rect x="1701.45" y="143.45" width="40.3" height="44.7" fill="#fe1d0e" stroke="#000" stroke-width="3.7"/>
<rect x="1701.45" y="217.35" width="40.3" height="44.8" fill="url(#ck14)" stroke="#000" stroke-width="3.7"/>
<g font-size="51.2">
<text x="1763.4" y="42.8">CON-SED</text>
<text x="1763.4" y="112.8">CON-EX</text>
<text x="1763.4" y="182.5">SJL-SED</text>
<text x="1763.4" y="256.6">SJL-EX</text>
</g></g>
<g id="blot">
<rect x="573.2" y="1190.6" width="770.9" height="46.9" fill="#f8f8f8"/>
<rect x="573.2" y="1237.5" width="770.9" height="43.2" fill="#f6f6f6"/>
<rect x="573.2" y="1280.7" width="770.9" height="43.6" fill="#cecece"/>
<rect x="573.2" y="1324.3" width="770.9" height="47.2" fill="#fafafa"/>
<rect x="573.2" y="1371.5" width="770.9" height="43.5" fill="#fbfbfb"/>
<rect x="573.2" y="1415" width="770.9" height="47.7" fill="#e1e1e1"/>
<rect x="573.2" y="1462.7" width="770.9" height="45.1" fill="#d2d2d2"/>
<rect x="573.2" y="1507.8" width="770.9" height="55.8" fill="#fbfbfb"/>
<defs><linearGradient id="nsbg" x1="0" x2="1" y1="0" y2="0"><stop offset="0" stop-color="#dddddd"/><stop offset="0.5" stop-color="#e2e2e2"/><stop offset="1" stop-color="#e8e8e8"/></linearGradient><linearGradient id="pgbg" x1="0" x2="1" y1="0" y2="0"><stop offset="0" stop-color="#d0d0d0"/><stop offset="0.6" stop-color="#d3d3d3"/><stop offset="1" stop-color="#d9d9d9"/></linearGradient><linearGradient id="c4bg" x1="0" x2="1" y1="0" y2="0"><stop offset="0" stop-color="#cccccc"/><stop offset="1" stop-color="#d1d1d1"/></linearGradient></defs>
<rect x="573.2" y="1415" width="770.9" height="47.7" fill="url(#nsbg)"/>
<rect x="573.2" y="1462.7" width="770.9" height="45.1" fill="url(#pgbg)"/>
<rect x="573.2" y="1280.7" width="770.9" height="43.6" fill="url(#c4bg)"/>
<g clip-path="url(#rc0)">
<g filter="url(#bl1)" fill="#000" opacity="0.2"><path d="M581 1210.8L583.79 1207.81L586.59 1206.99L589.38 1206.58L592.18 1206.39L594.97 1206.34L597.77 1206.39L600.56 1206.5L603.36 1206.65L606.15 1206.8L608.94 1206.95L611.74 1207.1L614.53 1207.29L617.33 1207.54L620.12 1207.89L622.92 1208.38L625.71 1209.09L628.51 1210.21L631.3 1213.5L631.3 1213.5L628.51 1216.76L625.71 1217.82L622.92 1218.44L620.12 1218.81L617.33 1219L614.53 1219.07L611.74 1219.03L608.94 1218.94L606.15 1218.8L603.36 1218.64L600.56 1218.43L597.77 1218.17L594.97 1217.8L592.18 1217.31L589.38 1216.64L586.59 1215.72L583.79 1214.36L581 1210.8Z"/><path d="M641.5 1213.5L644.29 1210.45L647.09 1209.66L649.88 1209.29L652.68 1209.15L655.47 1209.14L658.27 1209.23L661.06 1209.37L663.86 1209.54L666.65 1209.7L669.44 1209.85L672.24 1209.99L675.03 1210.16L677.83 1210.39L680.62 1210.7L683.42 1211.16L686.21 1211.84L689.01 1212.94L691.8 1216.3L691.8 1216.3L689.01 1219.81L686.21 1221.01L683.42 1221.73L680.62 1222.17L677.83 1222.42L675.03 1222.53L672.24 1222.52L669.44 1222.44L666.65 1222.3L663.86 1222.13L661.06 1221.9L658.27 1221.59L655.47 1221.18L652.68 1220.62L649.88 1219.86L647.09 1218.83L644.29 1217.32L641.5 1213.5Z"/><path d="M703.5 1216.3L706.5 1213.71L709.5 1213.01L712.5 1212.67L715.5 1212.5L718.5 1212.45L721.5 1212.48L724.5 1212.54L727.5 1212.62L730.5 1212.7L733.5 1212.76L736.5 1212.81L739.5 1212.88L742.5 1212.99L745.5 1213.17L748.5 1213.47L751.5 1213.94L754.5 1214.77L757.5 1217.5L757.5 1217.5L754.5 1220.56L751.5 1221.66L748.5 1222.36L745.5 1222.82L742.5 1223.11L739.5 1223.28L736.5 1223.35L733.5 1223.35L730.5 1223.3L727.5 1223.22L724.5 1223.08L721.5 1222.88L718.5 1222.58L715.5 1222.15L712.5 1221.56L709.5 1220.72L706.5 1219.49L703.5 1216.3Z"/><path d="M768.5 1216.5L771.46 1214.07L774.42 1213.53L777.38 1213.3L780.34 1213.21L783.31 1213.19L786.27 1213.2L789.23 1213.2L792.19 1213.18L795.15 1213.1L798.11 1212.96L801.07 1212.76L804.03 1212.53L806.99 1212.31L809.96 1212.1L812.92 1211.97L815.88 1211.98L818.84 1212.29L821.8 1214.5L821.8 1214.5L818.84 1218.19L815.88 1219.84L812.92 1221.03L809.96 1221.93L806.99 1222.62L804.03 1223.13L801.07 1223.5L798.11 1223.75L795.15 1223.9L792.19 1223.97L789.23 1223.94L786.27 1223.8L783.31 1223.51L780.34 1223.04L777.38 1222.36L774.42 1221.39L771.46 1219.96L768.5 1216.5Z"/><path d="M833.5 1217.5L836.29 1214.3L839.09 1213.19L841.88 1212.47L844.68 1211.96L847.47 1211.59L850.27 1211.31L853.06 1211.08L855.86 1210.89L858.65 1210.7L861.44 1210.5L864.24 1210.31L867.03 1210.14L869.83 1210.03L872.62 1210.02L875.42 1210.13L878.21 1210.46L881.01 1211.19L883.8 1214L883.8 1214L881.01 1217.52L878.21 1218.91L875.42 1219.87L872.62 1220.58L869.83 1221.11L867.03 1221.52L864.24 1221.84L861.44 1222.09L858.65 1222.3L855.86 1222.48L853.06 1222.62L850.27 1222.69L847.47 1222.67L844.68 1222.52L841.88 1222.2L839.09 1221.63L836.29 1220.63L833.5 1217.5Z"/><path d="M894.5 1211.5L897.33 1209.04L900.17 1208.37L903 1208.03L905.83 1207.86L908.67 1207.8L911.5 1207.82L914.33 1207.87L917.17 1207.94L920 1208L922.83 1208.05L925.67 1208.09L928.5 1208.15L931.33 1208.25L934.17 1208.42L937 1208.69L939.83 1209.15L942.67 1209.93L945.5 1212.5L945.5 1212.5L942.67 1215.38L939.83 1216.42L937 1217.08L934.17 1217.52L931.33 1217.8L928.5 1217.96L925.67 1218.03L922.83 1218.04L920 1218L917.17 1217.93L914.33 1217.81L911.5 1217.63L908.67 1217.36L905.83 1216.96L903 1216.42L900.17 1215.64L897.33 1214.49L894.5 1211.5Z"/><path d="M962 1210.5L964.83 1207.81L967.67 1207.07L970.5 1206.66L973.33 1206.43L976.17 1206.3L979 1206.21L981.83 1206.15L984.67 1206.09L987.5 1206L990.33 1205.87L993.17 1205.71L996 1205.55L998.83 1205.41L1001.67 1205.32L1004.5 1205.33L1007.33 1205.51L1010.17 1206.03L1013 1208.5L1013 1208.5L1010.17 1212.03L1007.33 1213.51L1004.5 1214.56L1001.67 1215.33L998.83 1215.91L996 1216.34L993.17 1216.65L990.33 1216.86L987.5 1217L984.67 1217.08L981.83 1217.09L979 1217.01L976.17 1216.8L973.33 1216.44L970.5 1215.89L967.67 1215.07L964.83 1213.81L962 1210.5Z"/><path d="M1029 1210L1031.75 1206.42L1034.5 1205.07L1037.25 1204.19L1040 1203.6L1042.75 1203.22L1045.5 1203L1048.25 1202.91L1051 1202.92L1053.75 1203L1056.5 1203.14L1059.25 1203.35L1062 1203.67L1064.75 1204.11L1067.5 1204.71L1070.25 1205.52L1073 1206.62L1075.75 1208.2L1078.5 1212L1078.5 1212L1075.75 1214.74L1073 1215.35L1070.25 1215.59L1067.5 1215.63L1064.75 1215.57L1062 1215.44L1059.25 1215.29L1056.5 1215.13L1053.75 1215L1051 1214.91L1048.25 1214.84L1045.5 1214.78L1042.75 1214.68L1040 1214.52L1037.25 1214.26L1034.5 1213.8L1031.75 1212.96L1029 1210Z"/><path d="M1096.5 1212L1099.22 1209.42L1101.94 1208.9L1104.67 1208.73L1107.39 1208.75L1110.11 1208.88L1112.83 1209.08L1115.56 1209.31L1118.28 1209.54L1121 1209.75L1123.72 1209.93L1126.44 1210.08L1129.17 1210.25L1131.89 1210.44L1134.61 1210.7L1137.33 1211.07L1140.06 1211.62L1142.78 1212.54L1145.5 1215.5L1145.5 1215.5L1142.78 1218.81L1140.06 1219.99L1137.33 1220.71L1134.61 1221.17L1131.89 1221.42L1129.17 1221.53L1126.44 1221.52L1123.72 1221.42L1121 1221.25L1118.28 1221.03L1115.56 1220.74L1112.83 1220.36L1110.11 1219.87L1107.39 1219.22L1104.67 1218.38L1101.94 1217.26L1099.22 1215.7L1096.5 1212Z"/><path d="M1160.5 1217L1163.06 1214.55L1165.61 1213.75L1168.17 1213.28L1170.72 1213L1173.28 1212.86L1175.83 1212.81L1178.39 1212.83L1180.94 1212.9L1183.5 1213L1186.06 1213.12L1188.61 1213.27L1191.17 1213.47L1193.72 1213.75L1196.28 1214.11L1198.83 1214.61L1201.39 1215.31L1203.94 1216.33L1206.5 1219L1206.5 1219L1203.94 1221.24L1201.39 1221.85L1198.83 1222.16L1196.28 1222.31L1193.72 1222.34L1191.17 1222.3L1188.61 1222.22L1186.06 1222.11L1183.5 1222L1180.94 1221.89L1178.39 1221.78L1175.83 1221.64L1173.28 1221.45L1170.72 1221.19L1168.17 1220.83L1165.61 1220.3L1163.06 1219.46L1160.5 1217Z"/><path d="M1222 1219L1224.53 1216.34L1227.06 1215.37L1229.58 1214.75L1232.11 1214.34L1234.64 1214.08L1237.17 1213.93L1239.69 1213.86L1242.22 1213.86L1244.75 1213.9L1247.28 1213.97L1249.81 1214.09L1252.33 1214.26L1254.86 1214.53L1257.39 1214.9L1259.92 1215.42L1262.44 1216.15L1264.97 1217.22L1267.5 1220L1267.5 1220L1264.97 1222.24L1262.44 1222.84L1259.92 1223.14L1257.39 1223.27L1254.86 1223.31L1252.33 1223.29L1249.81 1223.24L1247.28 1223.16L1244.75 1223.1L1242.22 1223.05L1239.69 1223.01L1237.17 1222.96L1234.64 1222.87L1232.11 1222.72L1229.58 1222.47L1227.06 1222.06L1224.53 1221.36L1222 1219Z"/><path d="M1284.5 1221.5L1287.11 1218.91L1289.72 1218L1292.33 1217.42L1294.94 1217.03L1297.56 1216.77L1300.17 1216.6L1302.78 1216.49L1305.39 1216.43L1308 1216.4L1310.61 1216.38L1313.22 1216.38L1315.83 1216.43L1318.44 1216.54L1321.06 1216.75L1323.67 1217.09L1326.28 1217.61L1328.89 1218.47L1331.5 1221L1331.5 1221L1328.89 1223.49L1326.28 1224.3L1323.67 1224.8L1321.06 1225.13L1318.44 1225.33L1315.83 1225.46L1313.22 1225.53L1310.61 1225.57L1308 1225.6L1305.39 1225.63L1302.78 1225.64L1300.17 1225.63L1297.56 1225.55L1294.94 1225.4L1292.33 1225.14L1289.72 1224.69L1287.11 1223.93L1284.5 1221.5Z"/></g>
<g filter="url(#bl0)"><path d="M582.5 1209.8L585.13 1209.05L587.76 1208.79L590.38 1208.62L593.01 1208.51L595.64 1208.43L598.27 1208.39L600.89 1208.35L603.52 1208.33L606.15 1208.3L608.78 1208.28L611.41 1208.25L614.03 1208.24L616.66 1208.25L619.29 1208.3L621.92 1208.46L624.54 1208.82L627.17 1209.59L629.8 1212.5L629.8 1212.5L627.17 1215.39L624.54 1216.1L621.92 1216.36L619.29 1216.4L616.66 1216.3L614.03 1216.12L611.41 1215.88L608.78 1215.61L606.15 1215.3L603.52 1214.96L600.89 1214.58L598.27 1214.17L595.64 1213.71L593.01 1213.19L590.38 1212.6L587.76 1211.92L585.13 1211.12L582.5 1209.8Z" fill="#000"/><path d="M643 1212.5L645.63 1210.57L648.26 1210.27L650.88 1210.25L653.51 1210.37L656.14 1210.54L658.77 1210.72L661.39 1210.9L664.02 1211.06L666.65 1211.2L669.28 1211.31L671.91 1211.4L674.53 1211.47L677.16 1211.53L679.79 1211.61L682.42 1211.77L685.04 1212.07L687.67 1212.72L690.3 1215.3L690.3 1215.3L687.67 1218.03L685.04 1218.78L682.42 1219.12L679.79 1219.26L677.16 1219.28L674.53 1219.22L671.91 1219.11L669.28 1218.97L666.65 1218.8L664.02 1218.6L661.39 1218.37L658.77 1218.1L656.14 1217.78L653.51 1217.4L650.88 1216.9L648.26 1216.22L645.63 1215.2L643 1212.5Z" fill="#000"/><path d="M705 1215.3L707.83 1213.9L710.67 1213.68L713.5 1213.68L716.33 1213.75L719.17 1213.86L722 1213.98L724.83 1214.08L727.67 1214.15L730.5 1214.2L733.33 1214.22L736.17 1214.22L739 1214.19L741.83 1214.15L744.67 1214.12L747.5 1214.13L750.33 1214.25L753.17 1214.63L756 1216.5L756 1216.5L753.17 1218.7L750.33 1219.35L747.5 1219.69L744.67 1219.87L741.83 1219.95L739 1219.97L736.17 1219.94L733.33 1219.88L730.5 1219.8L727.67 1219.69L724.83 1219.55L722 1219.38L719.17 1219.17L716.33 1218.9L713.5 1218.55L710.67 1218.05L707.83 1217.3L705 1215.3Z" fill="#000"/><path d="M770 1215.5L772.79 1214.46L775.59 1214.47L778.38 1214.6L781.18 1214.74L783.97 1214.86L786.77 1214.91L789.56 1214.89L792.36 1214.79L795.15 1214.6L797.94 1214.32L800.74 1213.96L803.53 1213.52L806.33 1213.01L809.12 1212.46L811.92 1211.91L814.71 1211.48L817.51 1211.39L820.3 1213.5L820.3 1213.5L817.51 1217.09L814.71 1218.34L811.92 1219.09L809.12 1219.58L806.33 1219.92L803.53 1220.15L800.74 1220.3L797.94 1220.38L795.15 1220.4L792.36 1220.36L789.56 1220.26L786.77 1220.09L783.97 1219.85L781.18 1219.52L778.38 1219.07L775.59 1218.46L772.79 1217.58L770 1215.5Z" fill="#000"/><path d="M835 1216.5L837.63 1214.57L840.26 1213.98L842.88 1213.62L845.51 1213.36L848.14 1213.14L850.77 1212.93L853.39 1212.71L856.02 1212.46L858.65 1212.2L861.28 1211.91L863.91 1211.6L866.53 1211.27L869.16 1210.93L871.79 1210.61L874.42 1210.36L877.04 1210.28L879.67 1210.58L882.3 1213L882.3 1213L879.67 1216.12L877.04 1217.09L874.42 1217.64L871.79 1217.98L869.16 1218.22L866.53 1218.4L863.91 1218.55L861.28 1218.68L858.65 1218.8L856.02 1218.91L853.39 1219L850.77 1219.07L848.14 1219.12L845.51 1219.13L842.88 1219.05L840.26 1218.84L837.63 1218.35L835 1216.5Z" fill="#000"/><path d="M896 1210.5L898.67 1208.97L901.33 1208.76L904 1208.79L906.67 1208.91L909.33 1209.05L912 1209.2L914.67 1209.33L917.33 1209.43L920 1209.5L922.67 1209.54L925.33 1209.55L928 1209.53L930.67 1209.5L933.33 1209.46L936 1209.46L938.67 1209.54L941.33 1209.85L944 1211.5L944 1211.5L941.33 1213.45L938.67 1214.03L936 1214.32L933.33 1214.48L930.67 1214.55L928 1214.58L925.33 1214.57L922.67 1214.55L920 1214.5L917.33 1214.44L914.67 1214.35L912 1214.24L909.33 1214.11L906.67 1213.92L904 1213.66L901.33 1213.25L898.67 1212.57L896 1210.5Z" fill="#000"/><path d="M963.5 1209.5L966.17 1207.82L968.83 1207.55L971.5 1207.51L974.17 1207.55L976.83 1207.61L979.5 1207.65L982.17 1207.65L984.83 1207.6L987.5 1207.5L990.17 1207.35L992.83 1207.14L995.5 1206.88L998.17 1206.59L1000.83 1206.28L1003.5 1205.99L1006.17 1205.8L1008.83 1205.86L1011.5 1207.5L1011.5 1207.5L1008.83 1210.2L1006.17 1211.23L1003.5 1211.9L1000.83 1212.37L998.17 1212.73L995.5 1213L992.83 1213.22L990.17 1213.38L987.5 1213.5L984.83 1213.57L982.17 1213.6L979.5 1213.57L976.83 1213.49L974.17 1213.32L971.5 1213.04L968.83 1212.58L966.17 1211.8L963.5 1209.5Z" fill="#000"/><path d="M1030.5 1209L1033.08 1206.36L1035.67 1205.47L1038.25 1204.96L1040.83 1204.66L1043.42 1204.48L1046 1204.4L1048.58 1204.38L1051.17 1204.41L1053.75 1204.5L1056.33 1204.64L1058.92 1204.82L1061.5 1205.06L1064.08 1205.37L1066.67 1205.77L1069.25 1206.29L1071.83 1207.03L1074.42 1208.13L1077 1211L1077 1211L1074.42 1212.8L1071.83 1212.95L1069.25 1212.82L1066.67 1212.58L1064.08 1212.31L1061.5 1212.05L1058.92 1211.82L1056.33 1211.64L1053.75 1211.5L1051.17 1211.41L1048.58 1211.38L1046 1211.38L1043.42 1211.42L1040.83 1211.47L1038.25 1211.48L1035.67 1211.39L1033.08 1211.03L1030.5 1209Z" fill="#000"/><path d="M1098 1211L1100.56 1209.39L1103.11 1209.33L1105.67 1209.53L1108.22 1209.82L1110.78 1210.15L1113.33 1210.48L1115.89 1210.78L1118.44 1211.03L1121 1211.25L1123.56 1211.42L1126.11 1211.55L1128.67 1211.65L1131.22 1211.71L1133.78 1211.77L1136.33 1211.86L1138.89 1212.05L1141.44 1212.5L1144 1214.5L1144 1214.5L1141.44 1216.84L1138.89 1217.55L1136.33 1217.92L1133.78 1218.09L1131.22 1218.15L1128.67 1218.13L1126.11 1218.05L1123.56 1217.92L1121 1217.75L1118.44 1217.53L1115.89 1217.27L1113.33 1216.97L1110.78 1216.6L1108.22 1216.15L1105.67 1215.58L1103.11 1214.83L1100.56 1213.73L1098 1211Z" fill="#000"/><path d="M1162 1216L1164.39 1214.13L1166.78 1213.78L1169.17 1213.73L1171.56 1213.79L1173.94 1213.91L1176.33 1214.06L1178.72 1214.21L1181.11 1214.36L1183.5 1214.5L1185.89 1214.64L1188.28 1214.77L1190.67 1214.89L1193.06 1215.02L1195.44 1215.17L1197.83 1215.37L1200.22 1215.67L1202.61 1216.2L1205 1218L1205 1218L1202.61 1219.37L1200.22 1219.49L1197.83 1219.41L1195.44 1219.25L1193.06 1219.06L1190.67 1218.88L1188.28 1218.73L1185.89 1218.6L1183.5 1218.5L1181.11 1218.43L1178.72 1218.39L1176.33 1218.38L1173.94 1218.39L1171.56 1218.41L1169.17 1218.39L1166.78 1218.26L1164.39 1217.88L1162 1216Z" fill="#000"/><path d="M1223.5 1218L1225.86 1216.56L1228.22 1216.04L1230.58 1215.73L1232.94 1215.53L1235.31 1215.42L1237.67 1215.36L1240.03 1215.34L1242.39 1215.36L1244.75 1215.4L1247.11 1215.47L1249.47 1215.56L1251.83 1215.69L1254.19 1215.86L1256.56 1216.09L1258.92 1216.4L1261.28 1216.82L1263.64 1217.45L1266 1219L1266 1219L1263.64 1220.02L1261.28 1220.17L1258.92 1220.16L1256.56 1220.08L1254.19 1219.98L1251.83 1219.86L1249.47 1219.76L1247.11 1219.67L1244.75 1219.6L1242.39 1219.56L1240.03 1219.54L1237.67 1219.53L1235.31 1219.53L1232.94 1219.53L1230.58 1219.49L1228.22 1219.39L1225.86 1219.13L1223.5 1218Z" fill="#000000"/><path d="M1286 1220.5L1288.44 1219.13L1290.89 1218.67L1293.33 1218.4L1295.78 1218.22L1298.22 1218.1L1300.67 1218.02L1303.11 1217.97L1305.56 1217.93L1308 1217.9L1310.44 1217.88L1312.89 1217.86L1315.33 1217.86L1317.78 1217.88L1320.22 1217.94L1322.67 1218.06L1325.11 1218.28L1327.56 1218.69L1330 1220L1330 1220L1327.56 1221.26L1325.11 1221.63L1322.67 1221.83L1320.22 1221.94L1317.78 1222L1315.33 1222.03L1312.89 1222.05L1310.44 1222.08L1308 1222.1L1305.56 1222.13L1303.11 1222.17L1300.67 1222.2L1298.22 1222.22L1295.78 1222.21L1293.33 1222.16L1290.89 1222.02L1288.44 1221.71L1286 1220.5Z" fill="#000000"/></g>
</g>
<g clip-path="url(#rc1)">
<g filter="url(#bl2)"><path d="M581.5 1256L584.11 1255.32L586.72 1255.33L589.33 1255.47L591.94 1255.65L594.56 1255.86L597.17 1256.09L599.78 1256.3L602.39 1256.51L605 1256.7L607.61 1256.87L610.22 1257.02L612.83 1257.15L615.44 1257.29L618.06 1257.43L620.67 1257.6L623.28 1257.82L625.89 1258.16L628.5 1259.2L628.5 1259.2L625.89 1260.26L623.28 1260.58L620.67 1260.73L618.06 1260.79L615.44 1260.78L612.83 1260.71L610.22 1260.61L607.61 1260.47L605 1260.3L602.39 1260.11L599.78 1259.9L597.17 1259.65L594.56 1259.36L591.94 1259.01L589.33 1258.6L586.72 1258.09L584.11 1257.41L581.5 1256Z" fill="url(#bg1)"/><path d="M643 1260L645.61 1258.9L648.22 1258.65L650.83 1258.55L653.44 1258.54L656.06 1258.57L658.67 1258.63L661.28 1258.7L663.89 1258.78L666.5 1258.85L669.11 1258.91L671.72 1258.97L674.33 1259.03L676.94 1259.1L679.56 1259.2L682.17 1259.35L684.78 1259.58L687.39 1259.97L690 1261.2L690 1261.2L687.39 1262.47L684.78 1262.87L682.17 1263.09L679.56 1263.22L676.94 1263.27L674.33 1263.28L671.72 1263.26L669.11 1263.21L666.5 1263.15L663.89 1263.08L661.28 1262.99L658.67 1262.88L656.06 1262.74L653.44 1262.55L650.83 1262.29L648.22 1261.94L645.61 1261.4L643 1260Z" fill="#6e6e6e"/><path d="M705 1262.5L707.81 1261.53L710.61 1261.34L713.42 1261.3L716.22 1261.35L719.03 1261.44L721.83 1261.57L724.64 1261.72L727.44 1261.88L730.25 1262.05L733.06 1262.22L735.86 1262.39L738.67 1262.57L741.47 1262.77L744.28 1263.01L747.08 1263.3L749.89 1263.68L752.69 1264.2L755.5 1265.5L755.5 1265.5L752.69 1266.47L749.89 1266.66L747.08 1266.7L744.28 1266.65L741.47 1266.56L738.67 1266.43L735.86 1266.28L733.06 1266.12L730.25 1265.95L727.44 1265.78L724.64 1265.61L721.83 1265.43L719.03 1265.23L716.22 1264.99L713.42 1264.7L710.61 1264.32L707.81 1263.8L705 1262.5Z" fill="url(#bg2)"/><path d="M770 1265.5L772.78 1264.49L775.56 1264.19L778.33 1264L781.11 1263.86L783.89 1263.74L786.67 1263.61L789.44 1263.48L792.22 1263.33L795 1263.15L797.78 1262.94L800.56 1262.7L803.33 1262.45L806.11 1262.18L808.89 1261.91L811.67 1261.67L814.44 1261.47L817.22 1261.38L820 1262L820 1262L817.22 1263.53L814.44 1264.3L811.67 1264.89L808.89 1265.37L806.11 1265.77L803.33 1266.11L800.56 1266.39L797.78 1266.64L795 1266.85L792.22 1267.03L789.44 1267.17L786.67 1267.27L783.89 1267.33L781.11 1267.31L778.33 1267.22L775.56 1267.02L772.78 1266.64L770 1265.5Z" fill="url(#bg3)"/><path d="M835 1263.5L837.61 1262.12L840.22 1261.53L842.83 1261.09L845.44 1260.74L848.06 1260.45L850.67 1260.19L853.28 1259.95L855.89 1259.72L858.5 1259.5L861.11 1259.28L863.72 1259.06L866.33 1258.85L868.94 1258.67L871.56 1258.52L874.17 1258.43L876.78 1258.41L879.39 1258.56L882 1259.5L882 1259.5L879.39 1260.88L876.78 1261.47L874.17 1261.91L871.56 1262.26L868.94 1262.55L866.33 1262.81L863.72 1263.05L861.11 1263.28L858.5 1263.5L855.89 1263.72L853.28 1263.94L850.67 1264.15L848.06 1264.33L845.44 1264.48L842.83 1264.57L840.22 1264.59L837.61 1264.44L835 1263.5Z" fill="#595959"/><path d="M897 1259L899.67 1257.95L902.33 1257.62L905 1257.43L907.67 1257.32L910.33 1257.25L913 1257.22L915.67 1257.2L918.33 1257.2L921 1257.2L923.67 1257.2L926.33 1257.2L929 1257.22L931.67 1257.25L934.33 1257.32L937 1257.43L939.67 1257.62L942.33 1257.95L945 1259L945 1259L942.33 1260.05L939.67 1260.38L937 1260.57L934.33 1260.68L931.67 1260.75L929 1260.78L926.33 1260.8L923.67 1260.8L921 1260.8L918.33 1260.8L915.67 1260.8L913 1260.78L910.33 1260.75L907.67 1260.68L905 1260.57L902.33 1260.38L899.67 1260.05L897 1259Z" fill="#616161"/><path d="M965 1257.5L967.64 1256.58L970.28 1256.34L972.92 1256.21L975.56 1256.13L978.19 1256.06L980.83 1256L983.47 1255.92L986.11 1255.82L988.75 1255.7L991.39 1255.55L994.03 1255.37L996.67 1255.16L999.31 1254.95L1001.94 1254.74L1004.58 1254.54L1007.22 1254.39L1009.86 1254.36L1012.5 1255L1012.5 1255L1009.86 1256.45L1007.22 1257.15L1004.58 1257.68L1001.94 1258.1L999.31 1258.44L996.67 1258.73L994.03 1258.96L991.39 1259.15L988.75 1259.3L986.11 1259.42L983.47 1259.51L980.83 1259.56L978.19 1259.56L975.56 1259.49L972.92 1259.34L970.28 1259.09L967.64 1258.67L965 1257.5Z" fill="url(#bg4)"/><path d="M1032 1256.5L1034.61 1255.22L1037.22 1254.71L1039.83 1254.39L1042.44 1254.18L1045.06 1254.06L1047.67 1254L1050.28 1254.01L1052.89 1254.06L1055.5 1254.15L1058.11 1254.28L1060.72 1254.45L1063.33 1254.67L1065.94 1254.95L1068.56 1255.29L1071.17 1255.72L1073.78 1256.27L1076.39 1257L1079 1258.5L1079 1258.5L1076.39 1259.15L1073.78 1259.1L1071.17 1258.94L1068.56 1258.75L1065.94 1258.54L1063.33 1258.33L1060.72 1258.14L1058.11 1257.98L1055.5 1257.85L1052.89 1257.76L1050.28 1257.7L1047.67 1257.66L1045.06 1257.65L1042.44 1257.64L1039.83 1257.61L1037.22 1257.54L1034.61 1257.37L1032 1256.5Z" fill="#575757"/><path d="M1100 1260L1102.5 1259.11L1105 1258.97L1107.5 1258.96L1110 1259.02L1112.5 1259.11L1115 1259.23L1117.5 1259.36L1120 1259.48L1122.5 1259.6L1125 1259.71L1127.5 1259.8L1130 1259.9L1132.5 1260L1135 1260.13L1137.5 1260.29L1140 1260.52L1142.5 1260.89L1145 1262L1145 1262L1142.5 1263.1L1140 1263.43L1137.5 1263.6L1135 1263.68L1132.5 1263.69L1130 1263.66L1127.5 1263.59L1125 1263.5L1122.5 1263.4L1120 1263.28L1117.5 1263.15L1115 1262.99L1112.5 1262.8L1110 1262.56L1107.5 1262.27L1105 1261.87L1102.5 1261.32L1100 1260Z" fill="url(#bg5)"/><path d="M1163.5 1263.5L1165.83 1262.46L1168.17 1262.19L1170.5 1262.08L1172.83 1262.05L1175.17 1262.06L1177.5 1262.12L1179.83 1262.19L1182.17 1262.27L1184.5 1262.35L1186.83 1262.43L1189.17 1262.52L1191.5 1262.62L1193.83 1262.73L1196.17 1262.88L1198.5 1263.08L1200.83 1263.36L1203.17 1263.79L1205.5 1265L1205.5 1265L1203.17 1266.06L1200.83 1266.34L1198.5 1266.48L1196.17 1266.52L1193.83 1266.52L1191.5 1266.47L1189.17 1266.41L1186.83 1266.33L1184.5 1266.25L1182.17 1266.17L1179.83 1266.08L1177.5 1265.97L1175.17 1265.85L1172.83 1265.69L1170.5 1265.48L1168.17 1265.18L1165.83 1264.73L1163.5 1263.5Z" fill="url(#bg6)"/><path d="M1225.5 1265L1227.75 1263.92L1230 1263.58L1232.25 1263.39L1234.5 1263.27L1236.75 1263.2L1239 1263.17L1241.25 1263.15L1243.5 1263.15L1245.75 1263.15L1248 1263.15L1250.25 1263.15L1252.5 1263.17L1254.75 1263.2L1257 1263.27L1259.25 1263.39L1261.5 1263.58L1263.75 1263.92L1266 1265L1266 1265L1263.75 1266.08L1261.5 1266.42L1259.25 1266.61L1257 1266.73L1254.75 1266.8L1252.5 1266.83L1250.25 1266.85L1248 1266.85L1245.75 1266.85L1243.5 1266.85L1241.25 1266.85L1239 1266.83L1236.75 1266.8L1234.5 1266.73L1232.25 1266.61L1230 1266.42L1227.75 1266.08L1225.5 1265Z" fill="#797979"/><path d="M1288 1266L1290.28 1264.87L1292.56 1264.47L1294.83 1264.22L1297.11 1264.05L1299.39 1263.93L1301.67 1263.84L1303.94 1263.77L1306.22 1263.71L1308.5 1263.65L1310.78 1263.59L1313.06 1263.54L1315.33 1263.5L1317.61 1263.48L1319.89 1263.49L1322.17 1263.56L1324.44 1263.7L1326.72 1263.98L1329 1265L1329 1265L1326.72 1266.13L1324.44 1266.53L1322.17 1266.78L1319.89 1266.95L1317.61 1267.07L1315.33 1267.16L1313.06 1267.23L1310.78 1267.29L1308.5 1267.35L1306.22 1267.41L1303.94 1267.46L1301.67 1267.5L1299.39 1267.52L1297.11 1267.51L1294.83 1267.44L1292.56 1267.3L1290.28 1267.02L1288 1266Z" fill="#767676"/></g>
</g>
<g clip-path="url(#rc2)">
<g filter="url(#bl3)"><path d="M581 1302L583.67 1299.83L586.33 1299.06L589 1298.57L591.67 1298.23L594.33 1298.01L597 1297.86L599.67 1297.76L602.33 1297.71L605 1297.67L607.67 1297.65L610.33 1297.65L613 1297.69L615.67 1297.79L618.33 1297.96L621 1298.24L623.67 1298.67L626.33 1299.39L629 1301.5L629 1301.5L626.33 1303.56L623.67 1304.24L621 1304.65L618.33 1304.92L615.67 1305.09L613 1305.2L610.33 1305.26L607.67 1305.3L605 1305.33L602.33 1305.35L599.67 1305.37L597 1305.36L594.33 1305.31L591.67 1305.2L589 1304.99L586.33 1304.63L583.67 1304.01L581 1302Z" fill="url(#bg7)"/><path d="M642.5 1303L645.17 1300.74L647.83 1300.02L650.5 1299.6L653.17 1299.35L655.83 1299.22L658.5 1299.16L661.17 1299.16L663.83 1299.2L666.5 1299.25L669.17 1299.31L671.83 1299.38L674.5 1299.5L677.17 1299.66L679.83 1299.91L682.5 1300.27L685.17 1300.8L687.83 1301.63L690.5 1304L690.5 1304L687.83 1306.26L685.17 1306.98L682.5 1307.4L679.83 1307.65L677.17 1307.78L674.5 1307.84L671.83 1307.84L669.17 1307.8L666.5 1307.75L663.83 1307.69L661.17 1307.62L658.5 1307.5L655.83 1307.34L653.17 1307.09L650.5 1306.73L647.83 1306.2L645.17 1305.37L642.5 1303Z" fill="url(#bg8)"/><path d="M705 1305L707.89 1302.97L710.78 1302.33L713.67 1301.96L716.56 1301.74L719.44 1301.62L722.33 1301.58L725.22 1301.58L728.11 1301.62L731 1301.67L733.89 1301.73L736.78 1301.81L739.67 1301.91L742.56 1302.07L745.44 1302.3L748.33 1302.62L751.22 1303.11L754.11 1303.86L757 1306L757 1306L754.11 1308.03L751.22 1308.67L748.33 1309.04L745.44 1309.26L742.56 1309.38L739.67 1309.42L736.78 1309.42L733.89 1309.38L731 1309.33L728.11 1309.27L725.22 1309.19L722.33 1309.09L719.44 1308.93L716.56 1308.7L713.67 1308.38L710.78 1307.89L707.89 1307.14L705 1305Z" fill="url(#bg9)"/><path d="M770 1307.5L772.78 1305.41L775.56 1304.72L778.33 1304.29L781.11 1304.02L783.89 1303.85L786.67 1303.75L789.44 1303.7L792.22 1303.68L795 1303.67L797.78 1303.68L800.56 1303.7L803.33 1303.75L806.11 1303.85L808.89 1304.02L811.67 1304.29L814.44 1304.72L817.22 1305.41L820 1307.5L820 1307.5L817.22 1309.59L814.44 1310.28L811.67 1310.71L808.89 1310.98L806.11 1311.15L803.33 1311.25L800.56 1311.3L797.78 1311.32L795 1311.33L792.22 1311.32L789.44 1311.3L786.67 1311.25L783.89 1311.15L781.11 1310.98L778.33 1310.71L775.56 1310.28L772.78 1309.59L770 1307.5Z" fill="url(#bg10)"/><path d="M835 1305.5L837.72 1303.07L840.44 1302.19L843.17 1301.6L845.89 1301.19L848.61 1300.89L851.33 1300.66L854.06 1300.5L856.78 1300.36L859.5 1300.25L862.22 1300.14L864.94 1300.05L867.67 1300L870.39 1300L873.11 1300.08L875.83 1300.27L878.56 1300.63L881.28 1301.29L884 1303.5L884 1303.5L881.28 1305.93L878.56 1306.81L875.83 1307.4L873.11 1307.81L870.39 1308.11L867.67 1308.34L864.94 1308.5L862.22 1308.64L859.5 1308.75L856.78 1308.86L854.06 1308.95L851.33 1309L848.61 1309L845.89 1308.92L843.17 1308.73L840.44 1308.37L837.72 1307.71L835 1305.5Z" fill="url(#bg11)"/><path d="M897.5 1303.3L900.28 1301.21L903.06 1300.52L905.83 1300.09L908.61 1299.82L911.39 1299.65L914.17 1299.55L916.94 1299.5L919.72 1299.48L922.5 1299.47L925.28 1299.48L928.06 1299.5L930.83 1299.55L933.61 1299.65L936.39 1299.82L939.17 1300.09L941.94 1300.52L944.72 1301.21L947.5 1303.3L947.5 1303.3L944.72 1305.39L941.94 1306.08L939.17 1306.51L936.39 1306.78L933.61 1306.95L930.83 1307.05L928.06 1307.1L925.28 1307.12L922.5 1307.12L919.72 1307.12L916.94 1307.1L914.17 1307.05L911.39 1306.95L908.61 1306.78L905.83 1306.51L903.06 1306.08L900.28 1305.39L897.5 1303.3Z" fill="#373737"/><path d="M966 1301.5L968.86 1299.45L971.72 1298.79L974.58 1298.4L977.44 1298.16L980.31 1298.03L983.17 1297.96L986.03 1297.94L988.89 1297.95L991.75 1297.97L994.61 1298L997.47 1298.05L1000.33 1298.12L1003.19 1298.25L1006.06 1298.44L1008.92 1298.74L1011.78 1299.18L1014.64 1299.9L1017.5 1302L1017.5 1302L1014.64 1304.07L1011.78 1304.75L1008.92 1305.15L1006.06 1305.41L1003.19 1305.55L1000.33 1305.63L997.47 1305.66L994.61 1305.65L991.75 1305.62L988.89 1305.59L986.03 1305.55L983.17 1305.46L980.31 1305.33L977.44 1305.13L974.58 1304.82L971.72 1304.36L968.86 1303.63L966 1301.5Z" fill="url(#bg12)"/><path d="M1036 1302.5L1038.78 1300.58L1041.56 1299.98L1044.33 1299.64L1047.11 1299.43L1049.89 1299.33L1052.67 1299.29L1055.44 1299.3L1058.22 1299.33L1061 1299.39L1063.78 1299.45L1066.56 1299.52L1069.33 1299.62L1072.11 1299.77L1074.89 1299.99L1077.67 1300.3L1080.44 1300.76L1083.22 1301.47L1086 1303.5L1086 1303.5L1083.22 1305.42L1080.44 1306.02L1077.67 1306.36L1074.89 1306.57L1072.11 1306.67L1069.33 1306.71L1066.56 1306.7L1063.78 1306.67L1061 1306.61L1058.22 1306.55L1055.44 1306.48L1052.67 1306.38L1049.89 1306.23L1047.11 1306.01L1044.33 1305.7L1041.56 1305.24L1038.78 1304.53L1036 1302.5Z" fill="#797979"/><path d="M1105 1305.3L1107.56 1303.38L1110.11 1302.78L1112.67 1302.44L1115.22 1302.23L1117.78 1302.13L1120.33 1302.09L1122.89 1302.1L1125.44 1302.13L1128 1302.19L1130.56 1302.25L1133.11 1302.32L1135.67 1302.42L1138.22 1302.57L1140.78 1302.79L1143.33 1303.1L1145.89 1303.56L1148.44 1304.27L1151 1306.3L1151 1306.3L1148.44 1308.22L1145.89 1308.82L1143.33 1309.16L1140.78 1309.37L1138.22 1309.47L1135.67 1309.51L1133.11 1309.5L1130.56 1309.47L1128 1309.41L1125.44 1309.35L1122.89 1309.28L1120.33 1309.18L1117.78 1309.03L1115.22 1308.81L1112.67 1308.5L1110.11 1308.04L1107.56 1307.33L1105 1305.3Z" fill="#6e6e6e"/><path d="M1170 1308L1172.43 1305.91L1174.87 1305.22L1177.3 1304.79L1179.73 1304.52L1182.17 1304.35L1184.6 1304.25L1187.03 1304.2L1189.47 1304.18L1191.9 1304.17L1194.33 1304.18L1196.77 1304.2L1199.2 1304.25L1201.63 1304.35L1204.07 1304.52L1206.5 1304.79L1208.93 1305.22L1211.37 1305.91L1213.8 1308L1213.8 1308L1211.37 1310.09L1208.93 1310.78L1206.5 1311.21L1204.07 1311.48L1201.63 1311.65L1199.2 1311.75L1196.77 1311.8L1194.33 1311.82L1191.9 1311.83L1189.47 1311.82L1187.03 1311.8L1184.6 1311.75L1182.17 1311.65L1179.73 1311.48L1177.3 1311.21L1174.87 1310.78L1172.43 1310.09L1170 1308Z" fill="#393939"/><path d="M1231 1308L1233.31 1305.91L1235.61 1305.22L1237.92 1304.79L1240.22 1304.52L1242.53 1304.35L1244.83 1304.25L1247.14 1304.2L1249.44 1304.18L1251.75 1304.17L1254.06 1304.18L1256.36 1304.2L1258.67 1304.25L1260.97 1304.35L1263.28 1304.52L1265.58 1304.79L1267.89 1305.22L1270.19 1305.91L1272.5 1308L1272.5 1308L1270.19 1310.09L1267.89 1310.78L1265.58 1311.21L1263.28 1311.48L1260.97 1311.65L1258.67 1311.75L1256.36 1311.8L1254.06 1311.82L1251.75 1311.83L1249.44 1311.82L1247.14 1311.8L1244.83 1311.75L1242.53 1311.65L1240.22 1311.48L1237.92 1311.21L1235.61 1310.78L1233.31 1310.09L1231 1308Z" fill="#323232"/><path d="M1292.5 1307.5L1294.86 1305.41L1297.22 1304.72L1299.58 1304.29L1301.94 1304.02L1304.31 1303.85L1306.67 1303.75L1309.03 1303.7L1311.39 1303.68L1313.75 1303.67L1316.11 1303.68L1318.47 1303.7L1320.83 1303.75L1323.19 1303.85L1325.56 1304.02L1327.92 1304.29L1330.28 1304.72L1332.64 1305.41L1335 1307.5L1335 1307.5L1332.64 1309.59L1330.28 1310.28L1327.92 1310.71L1325.56 1310.98L1323.19 1311.15L1320.83 1311.25L1318.47 1311.3L1316.11 1311.32L1313.75 1311.33L1311.39 1311.32L1309.03 1311.3L1306.67 1311.25L1304.31 1311.15L1301.94 1310.98L1299.58 1310.71L1297.22 1310.28L1294.86 1309.59L1292.5 1307.5Z" fill="#393939"/><path d="M583 1320.5L586.17 1319.34L589.33 1318.95L592.5 1318.72L595.67 1318.57L598.83 1318.47L602 1318.41L605.17 1318.39L608.33 1318.38L611.5 1318.38L614.67 1318.38L617.83 1318.39L621 1318.41L624.17 1318.47L627.33 1318.57L630.5 1318.72L633.67 1318.95L636.83 1319.34L640 1320.5L640 1320.5L636.83 1321.66L633.67 1322.05L630.5 1322.28L627.33 1322.43L624.17 1322.53L621 1322.59L617.83 1322.61L614.67 1322.62L611.5 1322.62L608.33 1322.62L605.17 1322.61L602 1322.59L598.83 1322.53L595.67 1322.43L592.5 1322.28L589.33 1322.05L586.17 1321.66L583 1320.5Z" fill="#adadad"/><path d="M648 1321L650.22 1320.07L652.44 1319.76L654.67 1319.57L656.89 1319.45L659.11 1319.38L661.33 1319.33L663.56 1319.31L665.78 1319.3L668 1319.3L670.22 1319.3L672.44 1319.31L674.67 1319.33L676.89 1319.38L679.11 1319.45L681.33 1319.57L683.56 1319.76L685.78 1320.07L688 1321L688 1321L685.78 1321.93L683.56 1322.24L681.33 1322.43L679.11 1322.55L676.89 1322.62L674.67 1322.67L672.44 1322.69L670.22 1322.7L668 1322.7L665.78 1322.7L663.56 1322.69L661.33 1322.67L659.11 1322.62L656.89 1322.55L654.67 1322.43L652.44 1322.24L650.22 1321.93L648 1321Z" fill="#b2b2b2"/><path d="M972 1321L974.56 1320.07L977.11 1319.76L979.67 1319.57L982.22 1319.45L984.78 1319.38L987.33 1319.33L989.89 1319.31L992.44 1319.3L995 1319.3L997.56 1319.3L1000.11 1319.31L1002.67 1319.33L1005.22 1319.38L1007.78 1319.45L1010.33 1319.57L1012.89 1319.76L1015.44 1320.07L1018 1321L1018 1321L1015.44 1321.93L1012.89 1322.24L1010.33 1322.43L1007.78 1322.55L1005.22 1322.62L1002.67 1322.67L1000.11 1322.69L997.56 1322.7L995 1322.7L992.44 1322.7L989.89 1322.69L987.33 1322.67L984.78 1322.62L982.22 1322.55L979.67 1322.43L977.11 1322.24L974.56 1321.93L972 1321Z" fill="#b2b2b2"/><path d="M1040 1321.5L1042.33 1320.69L1044.67 1320.42L1047 1320.25L1049.33 1320.15L1051.67 1320.08L1054 1320.04L1056.33 1320.02L1058.67 1320.01L1061 1320.01L1063.33 1320.01L1065.67 1320.02L1068 1320.04L1070.33 1320.08L1072.67 1320.15L1075 1320.25L1077.33 1320.42L1079.67 1320.69L1082 1321.5L1082 1321.5L1079.67 1322.31L1077.33 1322.58L1075 1322.75L1072.67 1322.85L1070.33 1322.92L1068 1322.96L1065.67 1322.98L1063.33 1322.99L1061 1322.99L1058.67 1322.99L1056.33 1322.98L1054 1322.96L1051.67 1322.92L1049.33 1322.85L1047 1322.75L1044.67 1322.58L1042.33 1322.31L1040 1321.5Z" fill="#b8b8b8"/></g>
</g>
<g clip-path="url(#rc3)">
<g filter="url(#bl4)"><path d="M583.8 1341.5L586.17 1340.61L588.54 1340.41L590.92 1340.34L593.29 1340.34L595.66 1340.39L598.03 1340.47L600.41 1340.57L602.78 1340.69L605.15 1340.81L607.52 1340.93L609.89 1341.06L612.27 1341.2L614.64 1341.36L617.01 1341.56L619.38 1341.8L621.76 1342.12L624.13 1342.57L626.5 1343.7L626.5 1343.7L624.13 1344.63L621.76 1344.87L619.38 1344.97L617.01 1345L614.64 1344.97L612.27 1344.91L609.89 1344.82L607.52 1344.71L605.15 1344.59L602.78 1344.47L600.41 1344.33L598.03 1344.18L595.66 1344L593.29 1343.78L590.92 1343.51L588.54 1343.16L586.17 1342.67L583.8 1341.5Z" fill="url(#bg13)"/><path d="M646.5 1344L648.78 1342.98L651.06 1342.68L653.33 1342.52L655.61 1342.43L657.89 1342.4L660.17 1342.4L662.44 1342.42L664.72 1342.46L667 1342.51L669.28 1342.55L671.56 1342.6L673.83 1342.66L676.11 1342.75L678.39 1342.88L680.67 1343.05L682.94 1343.3L685.22 1343.69L687.5 1344.8L687.5 1344.8L685.22 1345.86L682.94 1346.2L680.67 1346.4L678.39 1346.51L676.11 1346.56L673.83 1346.58L671.56 1346.57L669.28 1346.54L667 1346.49L664.72 1346.45L662.44 1346.39L660.17 1346.31L657.89 1346.21L655.61 1346.06L653.33 1345.86L651.06 1345.58L648.78 1345.15L646.5 1344Z" fill="url(#bg14)"/><path d="M709.5 1348L711.86 1347.12L714.22 1346.84L716.58 1346.69L718.94 1346.6L721.31 1346.56L723.67 1346.55L726.03 1346.56L728.39 1346.59L730.75 1346.62L733.11 1346.65L735.47 1346.7L737.83 1346.75L740.19 1346.83L742.56 1346.94L744.92 1347.09L747.28 1347.31L749.64 1347.65L752 1348.6L752 1348.6L749.64 1349.48L747.28 1349.76L744.92 1349.91L742.56 1350L740.19 1350.04L737.83 1350.05L735.47 1350.04L733.11 1350.01L730.75 1349.98L728.39 1349.95L726.03 1349.9L723.67 1349.85L721.31 1349.77L718.94 1349.66L716.58 1349.51L714.22 1349.29L711.86 1348.95L709.5 1348Z" fill="#bebebe"/><path d="M775 1351.3L777.36 1350.12L779.72 1349.63L782.08 1349.27L784.44 1348.99L786.81 1348.76L789.17 1348.57L791.53 1348.4L793.89 1348.25L796.25 1348.11L798.61 1347.97L800.97 1347.85L803.33 1347.73L805.69 1347.65L808.06 1347.6L810.42 1347.6L812.78 1347.68L815.14 1347.9L817.5 1348.8L817.5 1348.8L815.14 1349.96L812.78 1350.43L810.42 1350.77L808.06 1351.04L805.69 1351.26L803.33 1351.44L800.97 1351.6L798.61 1351.75L796.25 1351.89L793.89 1352.03L791.53 1352.16L789.17 1352.28L786.81 1352.37L784.44 1352.43L782.08 1352.44L779.72 1352.38L777.36 1352.18L775 1351.3Z" fill="url(#bg15)"/><path d="M837.5 1349.5L839.94 1348.13L842.39 1347.53L844.83 1347.07L847.28 1346.7L849.72 1346.38L852.17 1346.11L854.61 1345.86L857.06 1345.62L859.5 1345.4L861.94 1345.18L864.39 1344.97L866.83 1344.77L869.28 1344.61L871.72 1344.48L874.17 1344.41L876.61 1344.42L879.06 1344.58L881.5 1345.5L881.5 1345.5L879.06 1346.87L876.61 1347.47L874.17 1347.93L871.72 1348.3L869.28 1348.62L866.83 1348.89L864.39 1349.14L861.94 1349.38L859.5 1349.6L857.06 1349.82L854.61 1350.03L852.17 1350.23L849.72 1350.39L847.28 1350.52L844.83 1350.59L842.39 1350.58L839.94 1350.42L837.5 1349.5Z" fill="url(#bg16)"/><path d="M901 1345.5L903.5 1344.55L906 1344.24L908.5 1344.05L911 1343.92L913.5 1343.85L916 1343.8L918.5 1343.78L921 1343.77L923.5 1343.77L926 1343.77L928.5 1343.78L931 1343.8L933.5 1343.85L936 1343.92L938.5 1344.05L941 1344.24L943.5 1344.55L946 1345.5L946 1345.5L943.5 1346.45L941 1346.76L938.5 1346.95L936 1347.08L933.5 1347.15L931 1347.2L928.5 1347.22L926 1347.23L923.5 1347.23L921 1347.23L918.5 1347.22L916 1347.2L913.5 1347.15L911 1347.08L908.5 1346.95L906 1346.76L903.5 1346.45L901 1345.5Z" fill="#858585"/><path d="M968 1344.5L970.54 1343.45L973.09 1343.09L975.63 1342.86L978.18 1342.7L980.72 1342.6L983.27 1342.52L985.81 1342.47L988.36 1342.44L990.9 1342.41L993.44 1342.38L995.99 1342.36L998.53 1342.36L1001.08 1342.37L1003.62 1342.43L1006.17 1342.53L1008.71 1342.7L1011.26 1343.01L1013.8 1344L1013.8 1344L1011.26 1345.07L1008.71 1345.45L1006.17 1345.7L1003.62 1345.87L1001.08 1345.98L998.53 1346.07L995.99 1346.12L993.44 1346.16L990.9 1346.19L988.36 1346.22L985.81 1346.23L983.27 1346.23L980.72 1346.21L978.18 1346.14L975.63 1346.03L973.09 1345.84L970.54 1345.51L968 1344.5Z" fill="#6b6b6b"/><path d="M1037.5 1344.3L1040 1343.39L1042.5 1343.17L1045 1343.08L1047.5 1343.08L1050 1343.12L1052.5 1343.21L1055 1343.33L1057.5 1343.46L1060 1343.61L1062.5 1343.76L1065 1343.93L1067.5 1344.11L1070 1344.32L1072.5 1344.58L1075 1344.88L1077.5 1345.27L1080 1345.79L1082.5 1347L1082.5 1347L1080 1347.85L1077.5 1348.02L1075 1348.05L1072.5 1348.02L1070 1347.93L1067.5 1347.82L1065 1347.69L1062.5 1347.54L1060 1347.39L1057.5 1347.24L1055 1347.09L1052.5 1346.92L1050 1346.73L1047.5 1346.52L1045 1346.25L1042.5 1345.92L1040 1345.45L1037.5 1344.3Z" fill="#6b6b6b"/><path d="M1106 1348.3L1108.38 1347.32L1110.76 1347.04L1113.13 1346.88L1115.51 1346.8L1117.89 1346.77L1120.27 1346.78L1122.64 1346.81L1125.02 1346.86L1127.4 1346.91L1129.78 1346.97L1132.16 1347.03L1134.53 1347.11L1136.91 1347.22L1139.29 1347.36L1141.67 1347.55L1144.04 1347.81L1146.42 1348.21L1148.8 1349.3L1148.8 1349.3L1146.42 1350.28L1144.04 1350.56L1141.67 1350.72L1139.29 1350.8L1136.91 1350.83L1134.53 1350.82L1132.16 1350.79L1129.78 1350.74L1127.4 1350.69L1125.02 1350.63L1122.64 1350.57L1120.27 1350.49L1117.89 1350.38L1115.51 1350.24L1113.13 1350.05L1110.76 1349.79L1108.38 1349.39L1106 1348.3Z" fill="#5b5b5b"/><path d="M1170 1350.5L1172.22 1349.38L1174.44 1349.01L1176.67 1348.78L1178.89 1348.64L1181.11 1348.54L1183.33 1348.49L1185.56 1348.46L1187.78 1348.45L1190 1348.45L1192.22 1348.45L1194.44 1348.46L1196.67 1348.49L1198.89 1348.54L1201.11 1348.64L1203.33 1348.78L1205.56 1349.01L1207.78 1349.38L1210 1350.5L1210 1350.5L1207.78 1351.62L1205.56 1351.99L1203.33 1352.22L1201.11 1352.36L1198.89 1352.46L1196.67 1352.51L1194.44 1352.54L1192.22 1352.55L1190 1352.55L1187.78 1352.55L1185.56 1352.54L1183.33 1352.51L1181.11 1352.46L1178.89 1352.36L1176.67 1352.22L1174.44 1351.99L1172.22 1351.62L1170 1350.5Z" fill="#444444"/><path d="M1230 1350L1232.22 1348.83L1234.44 1348.43L1236.67 1348.19L1238.89 1348.04L1241.11 1347.94L1243.33 1347.89L1245.56 1347.86L1247.78 1347.85L1250 1347.85L1252.22 1347.85L1254.44 1347.86L1256.67 1347.89L1258.89 1347.94L1261.11 1348.04L1263.33 1348.19L1265.56 1348.43L1267.78 1348.83L1270 1350L1270 1350L1267.78 1351.17L1265.56 1351.57L1263.33 1351.81L1261.11 1351.96L1258.89 1352.06L1256.67 1352.11L1254.44 1352.14L1252.22 1352.15L1250 1352.15L1247.78 1352.15L1245.56 1352.14L1243.33 1352.11L1241.11 1352.06L1238.89 1351.96L1236.67 1351.81L1234.44 1351.57L1232.22 1351.17L1230 1350Z" fill="#2c2c2c"/><path d="M1290 1349.8L1292.22 1348.74L1294.44 1348.36L1296.67 1348.11L1298.89 1347.95L1301.11 1347.83L1303.33 1347.75L1305.56 1347.69L1307.78 1347.64L1310 1347.61L1312.22 1347.58L1314.44 1347.55L1316.67 1347.55L1318.89 1347.56L1321.11 1347.61L1323.33 1347.71L1325.56 1347.89L1327.78 1348.2L1330 1349.2L1330 1349.2L1327.78 1350.26L1325.56 1350.64L1323.33 1350.89L1321.11 1351.05L1318.89 1351.17L1316.67 1351.25L1314.44 1351.31L1312.22 1351.36L1310 1351.39L1307.78 1351.42L1305.56 1351.45L1303.33 1351.45L1301.11 1351.44L1298.89 1351.39L1296.67 1351.29L1294.44 1351.11L1292.22 1350.8L1290 1349.8Z" fill="#525252"/></g>
</g>
<g clip-path="url(#rc4)">
<g filter="url(#bl1)" fill="#000" opacity="0.2"><path d="M574.5 1388L577.72 1384.62L580.94 1383.52L584.17 1382.87L587.39 1382.47L590.61 1382.25L593.83 1382.14L597.06 1382.13L600.28 1382.17L603.5 1382.25L606.72 1382.34L609.94 1382.46L613.17 1382.64L616.39 1382.91L619.61 1383.3L622.83 1383.87L626.06 1384.69L629.28 1385.95L632.5 1389.5L632.5 1389.5L629.28 1392.77L626.06 1393.78L622.83 1394.35L619.61 1394.68L616.39 1394.85L613.17 1394.91L609.94 1394.89L606.72 1394.83L603.5 1394.75L600.28 1394.67L597.06 1394.56L593.83 1394.41L590.61 1394.19L587.39 1393.85L584.17 1393.35L580.94 1392.62L577.72 1391.44L574.5 1388Z"/><path d="M638.5 1389.5L641.72 1386.04L644.94 1384.95L648.17 1384.33L651.39 1383.97L654.61 1383.79L657.83 1383.73L661.06 1383.77L664.28 1383.87L667.5 1384L670.72 1384.15L673.94 1384.33L677.17 1384.57L680.39 1384.9L683.61 1385.36L686.83 1385.99L690.06 1386.89L693.28 1388.26L696.5 1392L696.5 1392L693.28 1395.35L690.06 1396.35L686.83 1396.9L683.61 1397.19L680.39 1397.31L677.17 1397.32L673.94 1397.25L670.72 1397.14L667.5 1397L664.28 1396.86L661.06 1396.7L657.83 1396.49L654.61 1396.2L651.39 1395.8L648.17 1395.23L644.94 1394.41L641.72 1393.13L638.5 1389.5Z"/><path d="M702.5 1392.5L705.78 1389.26L709.06 1388.29L712.33 1387.76L715.61 1387.48L718.89 1387.36L722.17 1387.37L725.44 1387.45L728.72 1387.59L732 1387.75L735.28 1387.92L738.56 1388.12L741.83 1388.37L745.11 1388.7L748.39 1389.14L751.67 1389.76L754.94 1390.62L758.22 1391.92L761.5 1395.5L761.5 1395.5L758.22 1398.74L754.94 1399.71L751.67 1400.24L748.39 1400.52L745.11 1400.64L741.83 1400.63L738.56 1400.55L735.28 1400.41L732 1400.25L728.72 1400.08L725.44 1399.88L722.17 1399.63L718.89 1399.3L715.61 1398.86L712.33 1398.24L709.06 1397.38L705.78 1396.08L702.5 1392.5Z"/><path d="M767.5 1395.8L770.72 1392.35L773.94 1391.17L777.17 1390.42L780.39 1389.93L783.61 1389.59L786.83 1389.37L790.06 1389.22L793.28 1389.12L796.5 1389.05L799.72 1388.98L802.94 1388.93L806.17 1388.93L809.39 1389.01L812.61 1389.2L815.83 1389.56L819.06 1390.16L822.28 1391.19L825.5 1394.5L825.5 1394.5L822.28 1398.01L819.06 1399.25L815.83 1400.04L812.61 1400.58L809.39 1400.95L806.17 1401.2L802.94 1401.36L799.72 1401.47L796.5 1401.55L793.28 1401.62L790.06 1401.65L786.83 1401.63L783.61 1401.53L780.39 1401.3L777.17 1400.91L773.94 1400.26L770.72 1399.17L767.5 1395.8Z"/><path d="M831 1395.3L834.08 1391.44L837.17 1390.12L840.25 1389.29L843.33 1388.74L846.42 1388.37L849.5 1388.13L852.58 1387.98L855.67 1387.88L858.75 1387.8L861.83 1387.73L864.92 1387.69L868 1387.7L871.08 1387.8L874.17 1388.02L877.25 1388.43L880.33 1389.11L883.42 1390.28L886.5 1394L886.5 1394L883.42 1397.92L880.33 1399.3L877.25 1400.17L874.17 1400.76L871.08 1401.17L868 1401.44L864.92 1401.61L861.83 1401.72L858.75 1401.8L855.67 1401.87L852.58 1401.9L849.5 1401.87L846.42 1401.74L843.33 1401.49L840.25 1401.04L837.17 1400.31L834.08 1399.08L831 1395.3Z"/><path d="M893.5 1393.5L896.72 1390.5L899.94 1389.5L903.17 1388.89L906.39 1388.49L909.61 1388.25L912.83 1388.1L916.06 1388.03L919.28 1388L922.5 1388L925.72 1388L928.94 1388.03L932.17 1388.1L935.39 1388.25L938.61 1388.49L941.83 1388.89L945.06 1389.5L948.28 1390.5L951.5 1393.5L951.5 1393.5L948.28 1396.5L945.06 1397.5L941.83 1398.11L938.61 1398.51L935.39 1398.75L932.17 1398.9L928.94 1398.97L925.72 1399L922.5 1399L919.28 1399L916.06 1398.97L912.83 1398.9L909.61 1398.75L906.39 1398.51L903.17 1398.11L899.94 1397.5L896.72 1396.5L893.5 1393.5Z"/><path d="M961 1393L964.29 1389.94L967.59 1388.89L970.88 1388.22L974.18 1387.77L977.47 1387.47L980.77 1387.27L984.06 1387.14L987.36 1387.06L990.65 1387L993.94 1386.95L997.24 1386.92L1000.53 1386.94L1003.83 1387.02L1007.12 1387.22L1010.42 1387.55L1013.71 1388.11L1017.01 1389.05L1020.3 1392L1020.3 1392L1017.01 1395.06L1013.71 1396.11L1010.42 1396.78L1007.12 1397.23L1003.83 1397.53L1000.53 1397.73L997.24 1397.86L993.94 1397.94L990.65 1398L987.36 1398.05L984.06 1398.08L980.77 1398.06L977.47 1397.98L974.18 1397.78L970.88 1397.45L967.59 1396.89L964.29 1395.95L961 1393Z"/><path d="M1032.3 1392.5L1035.45 1389.75L1038.6 1388.9L1041.75 1388.43L1044.9 1388.17L1048.05 1388.04L1051.2 1388.01L1054.35 1388.06L1057.5 1388.14L1060.65 1388.25L1063.8 1388.36L1066.95 1388.5L1070.1 1388.68L1073.25 1388.93L1076.4 1389.28L1079.55 1389.76L1082.7 1390.46L1085.85 1391.52L1089 1394.5L1089 1394.5L1085.85 1397.25L1082.7 1398.1L1079.55 1398.57L1076.4 1398.83L1073.25 1398.96L1070.1 1398.99L1066.95 1398.94L1063.8 1398.86L1060.65 1398.75L1057.5 1398.64L1054.35 1398.5L1051.2 1398.32L1048.05 1398.07L1044.9 1397.72L1041.75 1397.24L1038.6 1396.54L1035.45 1395.48L1032.3 1392.5Z"/><path d="M1099.5 1394.8L1102.6 1391.8L1105.7 1390.8L1108.8 1390.19L1111.9 1389.79L1115 1389.55L1118.1 1389.4L1121.2 1389.33L1124.3 1389.3L1127.4 1389.3L1130.5 1389.3L1133.6 1389.33L1136.7 1389.4L1139.8 1389.55L1142.9 1389.79L1146 1390.19L1149.1 1390.8L1152.2 1391.8L1155.3 1394.8L1155.3 1394.8L1152.2 1397.8L1149.1 1398.8L1146 1399.41L1142.9 1399.81L1139.8 1400.05L1136.7 1400.2L1133.6 1400.27L1130.5 1400.3L1127.4 1400.3L1124.3 1400.3L1121.2 1400.27L1118.1 1400.2L1115 1400.05L1111.9 1399.81L1108.8 1399.41L1105.7 1398.8L1102.6 1397.8L1099.5 1394.8Z"/><path d="M1166 1394.8L1168.86 1390.98L1171.72 1389.71L1174.58 1388.93L1177.44 1388.43L1180.31 1388.11L1183.17 1387.93L1186.03 1387.84L1188.89 1387.8L1191.75 1387.8L1194.61 1387.8L1197.47 1387.84L1200.33 1387.93L1203.19 1388.11L1206.06 1388.43L1208.92 1388.93L1211.78 1389.71L1214.64 1390.98L1217.5 1394.8L1217.5 1394.8L1214.64 1398.62L1211.78 1399.89L1208.92 1400.67L1206.06 1401.17L1203.19 1401.49L1200.33 1401.67L1197.47 1401.76L1194.61 1401.8L1191.75 1401.8L1188.89 1401.8L1186.03 1401.76L1183.17 1401.67L1180.31 1401.49L1177.44 1401.17L1174.58 1400.67L1171.72 1399.89L1168.86 1398.62L1166 1394.8Z"/><path d="M1226 1394L1228.81 1390.18L1231.61 1388.91L1234.42 1388.13L1237.22 1387.63L1240.03 1387.31L1242.83 1387.13L1245.64 1387.04L1248.44 1387L1251.25 1387L1254.06 1387L1256.86 1387.04L1259.67 1387.13L1262.47 1387.31L1265.28 1387.63L1268.08 1388.13L1270.89 1388.91L1273.69 1390.18L1276.5 1394L1276.5 1394L1273.69 1397.82L1270.89 1399.09L1268.08 1399.87L1265.28 1400.37L1262.47 1400.69L1259.67 1400.87L1256.86 1400.96L1254.06 1401L1251.25 1401L1248.44 1401L1245.64 1400.96L1242.83 1400.87L1240.03 1400.69L1237.22 1400.37L1234.42 1399.87L1231.61 1399.09L1228.81 1397.82L1226 1394Z"/><path d="M1286 1394L1288.74 1390.67L1291.48 1389.52L1294.22 1388.8L1296.96 1388.32L1299.69 1387.99L1302.43 1387.78L1305.17 1387.64L1307.91 1387.56L1310.65 1387.5L1313.39 1387.45L1316.13 1387.42L1318.87 1387.45L1321.61 1387.55L1324.34 1387.76L1327.08 1388.13L1329.82 1388.75L1332.56 1389.78L1335.3 1393L1335.3 1393L1332.56 1396.33L1329.82 1397.48L1327.08 1398.2L1324.34 1398.68L1321.61 1399.01L1318.87 1399.22L1316.13 1399.36L1313.39 1399.44L1310.65 1399.5L1307.91 1399.55L1305.17 1399.58L1302.43 1399.55L1299.69 1399.45L1296.96 1399.24L1294.22 1398.87L1291.48 1398.25L1288.74 1397.22L1286 1394Z"/></g>
<g filter="url(#bl5)"><path d="M576 1387L579.06 1384.98L582.11 1384.34L585.17 1383.97L588.22 1383.75L591.28 1383.63L594.33 1383.6L597.39 1383.62L600.44 1383.67L603.5 1383.75L606.56 1383.84L609.61 1383.95L612.67 1384.1L615.72 1384.3L618.78 1384.58L621.83 1384.97L624.89 1385.51L627.94 1386.32L631 1388.5L631 1388.5L627.94 1390.41L624.89 1390.96L621.83 1391.26L618.78 1391.41L615.72 1391.46L612.67 1391.46L609.61 1391.41L606.56 1391.33L603.5 1391.25L600.44 1391.17L597.39 1391.08L594.33 1390.96L591.28 1390.8L588.22 1390.57L585.17 1390.26L582.11 1389.8L579.06 1389.08L576 1387Z" fill="#000"/><path d="M640 1388.5L643.06 1386.4L646.11 1385.77L649.17 1385.42L652.22 1385.24L655.28 1385.17L658.33 1385.19L661.39 1385.26L664.44 1385.37L667.5 1385.5L670.56 1385.64L673.61 1385.81L676.67 1386.02L679.72 1386.28L682.78 1386.63L685.83 1387.09L688.89 1387.71L691.94 1388.63L695 1391L695 1391L691.94 1392.99L688.89 1393.53L685.83 1393.8L682.78 1393.91L679.72 1393.93L676.67 1393.87L673.61 1393.77L670.56 1393.64L667.5 1393.5L664.44 1393.36L661.39 1393.21L658.33 1393.04L655.28 1392.81L652.22 1392.52L649.17 1392.13L646.11 1391.59L643.06 1390.77L640 1388.5Z" fill="#000"/><path d="M704 1391.5L707.11 1389.62L710.22 1389.1L713.33 1388.85L716.44 1388.75L719.56 1388.75L722.67 1388.82L725.78 1388.94L728.89 1389.09L732 1389.25L735.11 1389.42L738.22 1389.6L741.33 1389.82L744.44 1390.09L747.56 1390.42L750.67 1390.85L753.78 1391.44L756.89 1392.29L760 1394.5L760 1394.5L756.89 1396.38L753.78 1396.9L750.67 1397.15L747.56 1397.25L744.44 1397.25L741.33 1397.18L738.22 1397.06L735.11 1396.91L732 1396.75L728.89 1396.58L725.78 1396.4L722.67 1396.18L719.56 1395.91L716.44 1395.58L713.33 1395.15L710.22 1394.56L707.11 1393.71L704 1391.5Z" fill="#000"/><path d="M769 1394.8L772.06 1392.71L775.11 1391.99L778.17 1391.52L781.22 1391.2L784.28 1390.98L787.33 1390.82L790.39 1390.71L793.44 1390.62L796.5 1390.55L799.56 1390.48L802.61 1390.42L805.67 1390.39L808.72 1390.4L811.78 1390.48L814.83 1390.65L817.89 1390.97L820.94 1391.56L824 1393.5L824 1393.5L820.94 1395.65L817.89 1396.43L814.83 1396.95L811.78 1397.31L808.72 1397.56L805.67 1397.75L802.61 1397.88L799.56 1397.97L796.5 1398.05L793.44 1398.12L790.39 1398.17L787.33 1398.18L784.28 1398.14L781.22 1398.03L778.17 1397.81L775.11 1397.44L772.06 1396.81L769 1394.8Z" fill="#000"/><path d="M832.5 1394.3L835.42 1391.8L838.33 1390.94L841.25 1390.39L844.17 1390.02L847.08 1389.76L850 1389.58L852.92 1389.46L855.83 1389.37L858.75 1389.3L861.67 1389.23L864.58 1389.17L867.5 1389.15L870.42 1389.18L873.33 1389.3L876.25 1389.53L879.17 1389.93L882.08 1390.65L885 1393L885 1393L882.08 1395.56L879.17 1396.48L876.25 1397.07L873.33 1397.49L870.42 1397.78L867.5 1397.98L864.58 1398.12L861.67 1398.22L858.75 1398.3L855.83 1398.37L852.92 1398.41L850 1398.42L847.08 1398.36L844.17 1398.21L841.25 1397.94L838.33 1397.49L835.42 1396.71L832.5 1394.3Z" fill="#000"/><path d="M895 1392.5L898.06 1390.86L901.11 1390.32L904.17 1389.98L907.22 1389.77L910.28 1389.63L913.33 1389.56L916.39 1389.52L919.44 1389.5L922.5 1389.5L925.56 1389.5L928.61 1389.52L931.67 1389.56L934.72 1389.63L937.78 1389.77L940.83 1389.98L943.89 1390.32L946.94 1390.86L950 1392.5L950 1392.5L946.94 1394.14L943.89 1394.68L940.83 1395.02L937.78 1395.23L934.72 1395.37L931.67 1395.44L928.61 1395.48L925.56 1395.5L922.5 1395.5L919.44 1395.5L916.39 1395.48L913.33 1395.44L910.28 1395.37L907.22 1395.23L904.17 1395.02L901.11 1394.68L898.06 1394.14L895 1392.5Z" fill="#000"/><path d="M962.5 1392L965.63 1390.31L968.76 1389.71L971.88 1389.32L975.01 1389.05L978.14 1388.86L981.27 1388.72L984.39 1388.63L987.52 1388.56L990.65 1388.5L993.78 1388.45L996.91 1388.41L1000.03 1388.39L1003.16 1388.41L1006.29 1388.49L1009.42 1388.65L1012.54 1388.93L1015.67 1389.42L1018.8 1391L1018.8 1391L1015.67 1392.69L1012.54 1393.29L1009.42 1393.68L1006.29 1393.95L1003.16 1394.14L1000.03 1394.28L996.91 1394.37L993.78 1394.44L990.65 1394.5L987.52 1394.55L984.39 1394.59L981.27 1394.61L978.14 1394.59L975.01 1394.51L971.88 1394.35L968.76 1394.07L965.63 1393.58L962.5 1392Z" fill="#000"/><path d="M1033.8 1391.5L1036.78 1390.11L1039.77 1389.72L1042.75 1389.53L1045.73 1389.44L1048.72 1389.43L1051.7 1389.47L1054.68 1389.54L1057.67 1389.64L1060.65 1389.75L1063.63 1389.86L1066.62 1389.99L1069.6 1390.13L1072.58 1390.32L1075.57 1390.55L1078.55 1390.86L1081.53 1391.28L1084.52 1391.89L1087.5 1393.5L1087.5 1393.5L1084.52 1394.89L1081.53 1395.28L1078.55 1395.47L1075.57 1395.56L1072.58 1395.57L1069.6 1395.53L1066.62 1395.46L1063.63 1395.36L1060.65 1395.25L1057.67 1395.14L1054.68 1395.01L1051.7 1394.87L1048.72 1394.68L1045.73 1394.45L1042.75 1394.14L1039.77 1393.72L1036.78 1393.11L1033.8 1391.5Z" fill="#1f1f1f"/><path d="M1101 1393.8L1103.93 1392.16L1106.87 1391.62L1109.8 1391.28L1112.73 1391.07L1115.67 1390.93L1118.6 1390.86L1121.53 1390.82L1124.47 1390.8L1127.4 1390.8L1130.33 1390.8L1133.27 1390.82L1136.2 1390.86L1139.13 1390.93L1142.07 1391.07L1145 1391.28L1147.93 1391.62L1150.87 1392.16L1153.8 1393.8L1153.8 1393.8L1150.87 1395.44L1147.93 1395.98L1145 1396.32L1142.07 1396.53L1139.13 1396.67L1136.2 1396.74L1133.27 1396.78L1130.33 1396.8L1127.4 1396.8L1124.47 1396.8L1121.53 1396.78L1118.6 1396.74L1115.67 1396.67L1112.73 1396.53L1109.8 1396.32L1106.87 1395.98L1103.93 1395.44L1101 1393.8Z" fill="#000"/><path d="M1167.5 1393.8L1170.19 1391.34L1172.89 1390.53L1175.58 1390.03L1178.28 1389.7L1180.97 1389.5L1183.67 1389.38L1186.36 1389.32L1189.06 1389.3L1191.75 1389.3L1194.44 1389.3L1197.14 1389.32L1199.83 1389.38L1202.53 1389.5L1205.22 1389.7L1207.92 1390.03L1210.61 1390.53L1213.31 1391.34L1216 1393.8L1216 1393.8L1213.31 1396.26L1210.61 1397.07L1207.92 1397.57L1205.22 1397.9L1202.53 1398.1L1199.83 1398.22L1197.14 1398.28L1194.44 1398.3L1191.75 1398.3L1189.06 1398.3L1186.36 1398.28L1183.67 1398.22L1180.97 1398.1L1178.28 1397.9L1175.58 1397.57L1172.89 1397.07L1170.19 1396.26L1167.5 1393.8Z" fill="#000"/><path d="M1227.5 1393L1230.14 1390.54L1232.78 1389.73L1235.42 1389.23L1238.06 1388.9L1240.69 1388.7L1243.33 1388.58L1245.97 1388.52L1248.61 1388.5L1251.25 1388.5L1253.89 1388.5L1256.53 1388.52L1259.17 1388.58L1261.81 1388.7L1264.44 1388.9L1267.08 1389.23L1269.72 1389.73L1272.36 1390.54L1275 1393L1275 1393L1272.36 1395.46L1269.72 1396.27L1267.08 1396.77L1264.44 1397.1L1261.81 1397.3L1259.17 1397.42L1256.53 1397.48L1253.89 1397.5L1251.25 1397.5L1248.61 1397.5L1245.97 1397.48L1243.33 1397.42L1240.69 1397.3L1238.06 1397.1L1235.42 1396.77L1232.78 1396.27L1230.14 1395.46L1227.5 1393Z" fill="#000"/><path d="M1287.5 1393L1290.07 1391.03L1292.64 1390.34L1295.22 1389.9L1297.79 1389.59L1300.36 1389.38L1302.93 1389.23L1305.51 1389.13L1308.08 1389.06L1310.65 1389L1313.22 1388.95L1315.79 1388.91L1318.37 1388.9L1320.94 1388.93L1323.51 1389.04L1326.08 1389.23L1328.66 1389.56L1331.23 1390.15L1333.8 1392L1333.8 1392L1331.23 1393.97L1328.66 1394.66L1326.08 1395.1L1323.51 1395.41L1320.94 1395.62L1318.37 1395.77L1315.79 1395.87L1313.22 1395.94L1310.65 1396L1308.08 1396.05L1305.51 1396.09L1302.93 1396.1L1300.36 1396.07L1297.79 1395.96L1295.22 1395.77L1292.64 1395.44L1290.07 1394.85L1287.5 1393Z" fill="#000"/></g>
</g>
<g clip-path="url(#rc5)">
<g filter="url(#bl6)"><path d="M582 1437L584.5 1434.55L587 1433.76L589.5 1433.31L592 1433.04L594.5 1432.88L597 1432.82L599.5 1432.81L602 1432.85L604.5 1432.9L607 1432.96L609.5 1433.04L612 1433.15L614.5 1433.33L617 1433.59L619.5 1433.97L622 1434.54L624.5 1435.43L627 1438L627 1438L624.5 1440.45L622 1441.24L619.5 1441.69L617 1441.96L614.5 1442.12L612 1442.18L609.5 1442.19L607 1442.15L604.5 1442.1L602 1442.04L599.5 1441.96L597 1441.85L594.5 1441.67L592 1441.41L589.5 1441.03L587 1440.46L584.5 1439.57L582 1437Z" fill="#a2a2a2"/><path d="M641 1443L643.44 1440.49L645.89 1439.65L648.33 1439.14L650.78 1438.81L653.22 1438.61L655.67 1438.49L658.11 1438.43L660.56 1438.4L663 1438.4L665.44 1438.4L667.89 1438.43L670.33 1438.49L672.78 1438.61L675.22 1438.81L677.67 1439.14L680.11 1439.65L682.56 1440.49L685 1443L685 1443L682.56 1445.51L680.11 1446.35L677.67 1446.86L675.22 1447.19L672.78 1447.39L670.33 1447.51L667.89 1447.57L665.44 1447.6L663 1447.6L660.56 1447.6L658.11 1447.57L655.67 1447.51L653.22 1447.39L650.78 1447.19L648.33 1446.86L645.89 1446.35L643.44 1445.51L641 1443Z" fill="#9f9f9f"/><path d="M701 1446L703.5 1443.65L706 1442.86L708.5 1442.38L711 1442.07L713.5 1441.88L716 1441.77L718.5 1441.71L721 1441.69L723.5 1441.69L726 1441.69L728.5 1441.71L731 1441.77L733.5 1441.88L736 1442.07L738.5 1442.38L741 1442.86L743.5 1443.65L746 1446L746 1446L743.5 1448.35L741 1449.14L738.5 1449.62L736 1449.93L733.5 1450.12L731 1450.23L728.5 1450.29L726 1450.31L723.5 1450.31L721 1450.31L718.5 1450.29L716 1450.23L713.5 1450.12L711 1449.93L708.5 1449.62L706 1449.14L703.5 1448.35L701 1446Z" fill="#a2a2a2"/><path d="M760 1446.5L762.64 1444.15L765.28 1443.36L767.92 1442.88L770.56 1442.57L773.19 1442.38L775.83 1442.27L778.47 1442.21L781.11 1442.19L783.75 1442.19L786.39 1442.19L789.03 1442.21L791.67 1442.27L794.31 1442.38L796.94 1442.57L799.58 1442.88L802.22 1443.36L804.86 1444.15L807.5 1446.5L807.5 1446.5L804.86 1448.85L802.22 1449.64L799.58 1450.12L796.94 1450.43L794.31 1450.62L791.67 1450.73L789.03 1450.79L786.39 1450.81L783.75 1450.81L781.11 1450.81L778.47 1450.79L775.83 1450.73L773.19 1450.62L770.56 1450.43L767.92 1450.12L765.28 1449.64L762.64 1448.85L760 1446.5Z" fill="#a0a0a0"/><path d="M822.5 1446.5L825.36 1444.15L828.22 1443.36L831.08 1442.88L833.94 1442.57L836.81 1442.38L839.67 1442.27L842.53 1442.21L845.39 1442.19L848.25 1442.19L851.11 1442.19L853.97 1442.21L856.83 1442.27L859.69 1442.38L862.56 1442.57L865.42 1442.88L868.28 1443.36L871.14 1444.15L874 1446.5L874 1446.5L871.14 1448.85L868.28 1449.64L865.42 1450.12L862.56 1450.43L859.69 1450.62L856.83 1450.73L853.97 1450.79L851.11 1450.81L848.25 1450.81L845.39 1450.81L842.53 1450.79L839.67 1450.73L836.81 1450.62L833.94 1450.43L831.08 1450.12L828.22 1449.64L825.36 1448.85L822.5 1446.5Z" fill="#a0a0a0"/><path d="M890 1445L892.78 1442.65L895.56 1441.86L898.33 1441.38L901.11 1441.07L903.89 1440.88L906.67 1440.77L909.44 1440.71L912.22 1440.69L915 1440.69L917.78 1440.69L920.56 1440.71L923.33 1440.77L926.11 1440.88L928.89 1441.07L931.67 1441.38L934.44 1441.86L937.22 1442.65L940 1445L940 1445L937.22 1447.35L934.44 1448.14L931.67 1448.62L928.89 1448.93L926.11 1449.12L923.33 1449.23L920.56 1449.29L917.78 1449.31L915 1449.31L912.22 1449.31L909.44 1449.29L906.67 1449.23L903.89 1449.12L901.11 1448.93L898.33 1448.62L895.56 1448.14L892.78 1447.35L890 1445Z" fill="#a5a5a5"/><path d="M957.5 1443.8L960.35 1441.6L963.2 1440.87L966.05 1440.42L968.9 1440.14L971.75 1439.96L974.6 1439.85L977.45 1439.8L980.3 1439.78L983.15 1439.77L986 1439.78L988.85 1439.8L991.7 1439.85L994.55 1439.96L997.4 1440.14L1000.25 1440.42L1003.1 1440.87L1005.95 1441.6L1008.8 1443.8L1008.8 1443.8L1005.95 1446L1003.1 1446.73L1000.25 1447.18L997.4 1447.46L994.55 1447.64L991.7 1447.75L988.85 1447.8L986 1447.82L983.15 1447.83L980.3 1447.82L977.45 1447.8L974.6 1447.75L971.75 1447.64L968.9 1447.46L966.05 1447.18L963.2 1446.73L960.35 1446L957.5 1443.8Z" fill="#b5b5b5"/><path d="M1026 1443L1028.86 1440.65L1031.72 1439.86L1034.58 1439.38L1037.44 1439.07L1040.31 1438.88L1043.17 1438.77L1046.03 1438.71L1048.89 1438.69L1051.75 1438.69L1054.61 1438.69L1057.47 1438.71L1060.33 1438.77L1063.19 1438.88L1066.06 1439.07L1068.92 1439.38L1071.78 1439.86L1074.64 1440.65L1077.5 1443L1077.5 1443L1074.64 1445.35L1071.78 1446.14L1068.92 1446.62L1066.06 1446.93L1063.19 1447.12L1060.33 1447.23L1057.47 1447.29L1054.61 1447.31L1051.75 1447.31L1048.89 1447.31L1046.03 1447.29L1043.17 1447.23L1040.31 1447.12L1037.44 1446.93L1034.58 1446.62L1031.72 1446.14L1028.86 1445.35L1026 1443Z" fill="#a5a5a5"/><path d="M1092.5 1443.8L1095.28 1441.45L1098.06 1440.66L1100.83 1440.18L1103.61 1439.87L1106.39 1439.68L1109.17 1439.57L1111.94 1439.51L1114.72 1439.49L1117.5 1439.49L1120.28 1439.49L1123.06 1439.51L1125.83 1439.57L1128.61 1439.68L1131.39 1439.87L1134.17 1440.18L1136.94 1440.66L1139.72 1441.45L1142.5 1443.8L1142.5 1443.8L1139.72 1446.15L1136.94 1446.94L1134.17 1447.42L1131.39 1447.73L1128.61 1447.92L1125.83 1448.03L1123.06 1448.09L1120.28 1448.11L1117.5 1448.11L1114.72 1448.11L1111.94 1448.09L1109.17 1448.03L1106.39 1447.92L1103.61 1447.73L1100.83 1447.42L1098.06 1446.94L1095.28 1446.15L1092.5 1443.8Z" fill="#a5a5a5"/><path d="M1157.5 1443L1160.19 1440.8L1162.89 1440.07L1165.58 1439.62L1168.28 1439.34L1170.97 1439.16L1173.67 1439.05L1176.36 1439L1179.06 1438.98L1181.75 1438.97L1184.44 1438.98L1187.14 1439L1189.83 1439.05L1192.53 1439.16L1195.22 1439.34L1197.92 1439.62L1200.61 1440.07L1203.31 1440.8L1206 1443L1206 1443L1203.31 1445.2L1200.61 1445.93L1197.92 1446.38L1195.22 1446.66L1192.53 1446.84L1189.83 1446.95L1187.14 1447L1184.44 1447.02L1181.75 1447.03L1179.06 1447.02L1176.36 1447L1173.67 1446.95L1170.97 1446.84L1168.28 1446.66L1165.58 1446.38L1162.89 1445.93L1160.19 1445.2L1157.5 1443Z" fill="#b0b0b0"/><path d="M1220 1442L1222.64 1439.57L1225.28 1438.72L1227.92 1438.16L1230.56 1437.78L1233.19 1437.5L1235.83 1437.31L1238.47 1437.18L1241.11 1437.07L1243.75 1436.99L1246.39 1436.91L1249.03 1436.84L1251.67 1436.81L1254.31 1436.84L1256.94 1436.94L1259.58 1437.16L1262.22 1437.55L1264.86 1438.24L1267.5 1440.5L1267.5 1440.5L1264.86 1442.95L1262.22 1443.82L1259.58 1444.4L1256.94 1444.79L1254.31 1445.08L1251.67 1445.28L1249.03 1445.42L1246.39 1445.53L1243.75 1445.61L1241.11 1445.69L1238.47 1445.75L1235.83 1445.78L1233.19 1445.74L1230.56 1445.63L1227.92 1445.4L1225.28 1444.99L1222.64 1444.28L1220 1442Z" fill="#9a9a9a"/><path d="M1283.8 1439.5L1286.23 1437.13L1288.66 1436.33L1291.08 1435.83L1293.51 1435.5L1295.94 1435.28L1298.37 1435.15L1300.79 1435.06L1303.22 1435.02L1305.65 1434.99L1308.08 1434.96L1310.51 1434.95L1312.93 1434.98L1315.36 1435.06L1317.79 1435.22L1320.22 1435.49L1322.64 1435.94L1325.07 1436.69L1327.5 1439L1327.5 1439L1325.07 1441.39L1322.64 1442.21L1320.22 1442.73L1317.79 1443.07L1315.36 1443.3L1312.93 1443.44L1310.51 1443.53L1308.08 1443.58L1305.65 1443.61L1303.22 1443.64L1300.79 1443.64L1298.37 1443.61L1295.94 1443.52L1293.51 1443.35L1291.08 1443.06L1288.66 1442.6L1286.23 1441.84L1283.8 1439.5Z" fill="#a8a8a8"/></g>
</g>
<g clip-path="url(#rc6)">
<g filter="url(#bl7)"><path d="M576 1489L578.94 1487.21L581.89 1486.4L584.83 1485.82L587.78 1485.39L590.72 1485.09L593.67 1484.89L596.61 1484.77L599.56 1484.74L602.5 1484.76L605.44 1484.85L608.39 1485L611.33 1485.22L614.28 1485.53L617.22 1485.95L620.17 1486.48L623.11 1487.17L626.06 1488.1L629 1490L629 1490L626.06 1490.87L623.11 1490.87L620.17 1490.74L617.22 1490.57L614.28 1490.38L611.33 1490.2L608.39 1490.04L605.44 1489.92L602.5 1489.84L599.56 1489.81L596.61 1489.82L593.67 1489.87L590.72 1489.94L587.78 1490.01L584.83 1490.07L581.89 1490.09L578.94 1489.98L576 1489Z" fill="#a3a3a3"/><path d="M574 1489L574.67 1486.82L575.33 1486.1L576 1485.66L576.67 1485.37L577.33 1485.19L578 1485.09L578.67 1485.03L579.33 1485.02L580 1485.01L580.67 1485.02L581.33 1485.03L582 1485.09L582.67 1485.19L583.33 1485.37L584 1485.66L584.67 1486.1L585.33 1486.82L586 1489L586 1489L585.33 1491.18L584.67 1491.9L584 1492.34L583.33 1492.63L582.67 1492.81L582 1492.91L581.33 1492.97L580.67 1492.98L580 1492.99L579.33 1492.98L578.67 1492.97L578 1492.91L577.33 1492.81L576.67 1492.63L576 1492.34L575.33 1491.9L574.67 1491.18L574 1489Z" fill="#757575"/><path d="M604 1489.3L605.42 1487.38L606.83 1486.77L608.25 1486.43L609.67 1486.22L611.08 1486.12L612.5 1486.08L613.92 1486.08L615.33 1486.12L616.75 1486.17L618.17 1486.23L619.58 1486.31L621 1486.41L622.42 1486.56L623.83 1486.78L625.25 1487.09L626.67 1487.55L628.08 1488.27L629.5 1490.3L629.5 1490.3L628.08 1492.22L626.67 1492.83L625.25 1493.17L623.83 1493.38L622.42 1493.48L621 1493.52L619.58 1493.52L618.17 1493.48L616.75 1493.42L615.33 1493.37L613.92 1493.29L612.5 1493.19L611.08 1493.04L609.67 1492.82L608.25 1492.51L606.83 1492.05L605.42 1491.33L604 1489.3Z" fill="#7f7f7f"/><path d="M650 1492.5L652.44 1490.63L654.89 1489.73L657.33 1489.06L659.78 1488.55L662.22 1488.16L664.67 1487.87L667.11 1487.66L669.56 1487.53L672 1487.46L674.44 1487.45L676.89 1487.5L679.33 1487.63L681.78 1487.85L684.22 1488.16L686.67 1488.59L689.11 1489.18L691.56 1490L694 1491.8L694 1491.8L691.56 1492.77L689.11 1492.87L686.67 1492.85L684.22 1492.78L681.78 1492.69L679.33 1492.61L676.89 1492.55L674.44 1492.52L672 1492.54L669.56 1492.6L667.11 1492.71L664.67 1492.85L662.22 1493L659.78 1493.17L657.33 1493.32L654.89 1493.42L652.44 1493.39L650 1492.5Z" fill="#a3a3a3"/><path d="M650.5 1493L651.08 1490.97L651.67 1490.25L652.25 1489.79L652.83 1489.48L653.42 1489.26L654 1489.11L654.58 1489.01L655.17 1488.93L655.75 1488.88L656.33 1488.82L656.92 1488.78L657.5 1488.78L658.08 1488.82L658.67 1488.92L659.25 1489.13L659.83 1489.47L660.42 1490.08L661 1492L661 1492L660.42 1494.03L659.83 1494.75L659.25 1495.21L658.67 1495.52L658.08 1495.74L657.5 1495.89L656.92 1495.99L656.33 1496.07L655.75 1496.12L655.17 1496.18L654.58 1496.22L654 1496.22L653.42 1496.18L652.83 1496.08L652.25 1495.87L651.67 1495.53L651.08 1494.92L650.5 1493Z" fill="#838383"/><path d="M674 1491.5L675.11 1489.56L676.22 1488.94L677.33 1488.57L678.44 1488.35L679.56 1488.22L680.67 1488.15L681.78 1488.14L682.89 1488.15L684 1488.17L685.11 1488.2L686.22 1488.25L687.33 1488.32L688.44 1488.44L689.56 1488.62L690.67 1488.9L691.78 1489.33L692.89 1490L694 1492L694 1492L692.89 1493.96L691.78 1494.6L690.67 1494.99L689.56 1495.22L688.44 1495.36L687.33 1495.44L686.22 1495.46L685.11 1495.45L684 1495.42L682.89 1495.39L681.78 1495.35L680.67 1495.27L679.56 1495.14L678.44 1494.95L677.33 1494.65L676.22 1494.21L675.11 1493.52L674 1491.5Z" fill="#838383"/><path d="M714 1492.5L716.56 1490.69L719.11 1489.84L721.67 1489.2L724.22 1488.71L726.78 1488.32L729.33 1488.01L731.89 1487.77L734.44 1487.59L737 1487.46L739.56 1487.37L742.11 1487.33L744.67 1487.34L747.22 1487.43L749.78 1487.6L752.33 1487.87L754.89 1488.28L757.44 1488.91L760 1490.5L760 1490.5L757.44 1491.68L754.89 1491.98L752.33 1492.13L749.78 1492.22L747.22 1492.28L744.67 1492.32L742.11 1492.38L739.56 1492.44L737 1492.54L734.44 1492.67L731.89 1492.82L729.33 1492.99L726.78 1493.16L724.22 1493.33L721.67 1493.46L719.11 1493.53L716.56 1493.46L714 1492.5Z" fill="#a3a3a3"/><path d="M714.5 1492.7L714.97 1490.91L715.44 1490.31L715.92 1489.93L716.39 1489.68L716.86 1489.51L717.33 1489.4L717.81 1489.33L718.28 1489.28L718.75 1489.24L719.22 1489.2L719.69 1489.17L720.17 1489.17L720.64 1489.2L721.11 1489.29L721.58 1489.46L722.06 1489.76L722.53 1490.29L723 1492L723 1492L722.53 1493.85L722.06 1494.51L721.58 1494.94L721.11 1495.23L720.64 1495.43L720.17 1495.57L719.69 1495.66L719.22 1495.72L718.75 1495.76L718.28 1495.8L717.81 1495.81L717.33 1495.8L716.86 1495.74L716.39 1495.62L715.92 1495.4L715.44 1495.06L714.97 1494.47L714.5 1492.7Z" fill="#929292"/><path d="M743 1490.3L743.97 1488.34L744.94 1487.71L745.92 1487.33L746.89 1487.09L747.86 1486.95L748.83 1486.88L749.81 1486.85L750.78 1486.86L751.75 1486.88L752.72 1486.9L753.69 1486.94L754.67 1487.01L755.64 1487.13L756.61 1487.31L757.58 1487.59L758.56 1488.02L759.53 1488.7L760.5 1490.7L760.5 1490.7L759.53 1492.66L758.56 1493.29L757.58 1493.67L756.61 1493.91L755.64 1494.05L754.67 1494.12L753.69 1494.15L752.72 1494.14L751.75 1494.12L750.78 1494.1L749.81 1494.06L748.83 1493.99L747.86 1493.87L746.89 1493.69L745.92 1493.41L744.94 1492.98L743.97 1492.3L743 1490.3Z" fill="#868686"/><path d="M780 1490.8L782.36 1489.14L784.72 1488.44L787.08 1487.95L789.44 1487.59L791.81 1487.33L794.17 1487.15L796.53 1487.04L798.89 1486.98L801.25 1486.96L803.61 1486.98L805.97 1487.04L808.33 1487.15L810.69 1487.33L813.06 1487.59L815.42 1487.95L817.78 1488.44L820.14 1489.14L822.5 1490.8L822.5 1490.8L820.14 1491.91L817.78 1492.13L815.42 1492.21L813.06 1492.21L810.69 1492.18L808.33 1492.13L805.97 1492.09L803.61 1492.05L801.25 1492.04L798.89 1492.05L796.53 1492.09L794.17 1492.13L791.81 1492.18L789.44 1492.21L787.08 1492.21L784.72 1492.13L782.36 1491.91L780 1490.8Z" fill="#a3a3a3"/><path d="M780.5 1491L781.19 1489L781.89 1488.33L782.58 1487.9L783.28 1487.62L783.97 1487.44L784.67 1487.32L785.36 1487.25L786.06 1487.2L786.75 1487.17L787.44 1487.15L788.14 1487.14L788.83 1487.15L789.53 1487.22L790.22 1487.35L790.92 1487.57L791.61 1487.94L792.31 1488.56L793 1490.5L793 1490.5L792.31 1492.52L791.61 1493.21L790.92 1493.65L790.22 1493.95L789.53 1494.14L788.83 1494.27L788.14 1494.35L787.44 1494.39L786.75 1494.42L786.06 1494.45L785.36 1494.46L784.67 1494.44L783.97 1494.36L783.28 1494.22L782.58 1493.99L781.89 1493.6L781.19 1492.96L780.5 1491Z" fill="#888888"/><path d="M806.5 1490.5L807.42 1488.56L808.33 1487.94L809.25 1487.57L810.17 1487.35L811.08 1487.22L812 1487.15L812.92 1487.14L813.83 1487.15L814.75 1487.17L815.67 1487.2L816.58 1487.25L817.5 1487.32L818.42 1487.44L819.33 1487.62L820.25 1487.9L821.17 1488.33L822.08 1489L823 1491L823 1491L822.08 1492.96L821.17 1493.6L820.25 1493.99L819.33 1494.22L818.42 1494.36L817.5 1494.44L816.58 1494.46L815.67 1494.45L814.75 1494.42L813.83 1494.39L812.92 1494.35L812 1494.27L811.08 1494.14L810.17 1493.95L809.25 1493.65L808.33 1493.21L807.42 1492.52L806.5 1490.5Z" fill="#8a8a8a"/><path d="M845 1491.3L847.28 1489.63L849.56 1488.9L851.83 1488.39L854.11 1488.01L856.39 1487.73L858.67 1487.53L860.94 1487.39L863.22 1487.31L865.5 1487.26L867.78 1487.25L870.06 1487.28L872.33 1487.37L874.61 1487.51L876.89 1487.74L879.17 1488.06L881.44 1488.52L883.72 1489.18L886 1490.8L886 1490.8L883.72 1491.95L881.44 1492.21L879.17 1492.32L876.89 1492.36L874.61 1492.36L872.33 1492.35L870.06 1492.33L867.78 1492.32L865.5 1492.34L863.22 1492.38L860.94 1492.44L858.67 1492.51L856.39 1492.58L854.11 1492.63L851.83 1492.65L849.56 1492.6L847.28 1492.39L845 1491.3Z" fill="#a3a3a3"/><path d="M845.5 1491.5L846.19 1489.5L846.89 1488.83L847.58 1488.4L848.28 1488.12L848.97 1487.94L849.67 1487.82L850.36 1487.75L851.06 1487.7L851.75 1487.67L852.44 1487.65L853.14 1487.64L853.83 1487.65L854.53 1487.72L855.22 1487.85L855.92 1488.07L856.61 1488.44L857.31 1489.06L858 1491L858 1491L857.31 1493.02L856.61 1493.71L855.92 1494.15L855.22 1494.45L854.53 1494.64L853.83 1494.77L853.14 1494.85L852.44 1494.89L851.75 1494.92L851.06 1494.95L850.36 1494.96L849.67 1494.94L848.97 1494.86L848.28 1494.72L847.58 1494.49L846.89 1494.1L846.19 1493.46L845.5 1491.5Z" fill="#888888"/><path d="M871.5 1490.5L872.33 1488.56L873.17 1487.94L874 1487.57L874.83 1487.35L875.67 1487.22L876.5 1487.15L877.33 1487.14L878.17 1487.15L879 1487.17L879.83 1487.2L880.67 1487.25L881.5 1487.32L882.33 1487.44L883.17 1487.62L884 1487.9L884.83 1488.33L885.67 1489L886.5 1491L886.5 1491L885.67 1492.96L884.83 1493.6L884 1493.99L883.17 1494.22L882.33 1494.36L881.5 1494.44L880.67 1494.46L879.83 1494.45L879 1494.42L878.17 1494.39L877.33 1494.35L876.5 1494.27L875.67 1494.14L874.83 1493.95L874 1493.65L873.17 1493.21L872.33 1492.52L871.5 1490.5Z" fill="#8c8c8c"/><path d="M909 1489.5L911.33 1487.88L913.67 1487.22L916 1486.76L918.33 1486.44L920.67 1486.21L923 1486.07L925.33 1485.98L927.67 1485.95L930 1485.96L932.33 1486.01L934.67 1486.09L937 1486.23L939.33 1486.43L941.67 1486.71L944 1487.09L946.33 1487.6L948.67 1488.33L951 1490L951 1490L948.67 1491.09L946.33 1491.3L944 1491.35L941.67 1491.33L939.33 1491.28L937 1491.21L934.67 1491.14L932.33 1491.08L930 1491.04L927.67 1491.02L925.33 1491.03L923 1491.05L920.67 1491.06L918.33 1491.06L916 1491.02L913.67 1490.91L911.33 1490.65L909 1489.5Z" fill="#ababab"/><path d="M909.5 1489.7L910.11 1487.9L910.72 1487.28L911.33 1486.9L911.94 1486.64L912.56 1486.47L913.17 1486.37L913.78 1486.3L914.39 1486.26L915 1486.24L915.61 1486.22L916.22 1486.21L916.83 1486.23L917.44 1486.3L918.06 1486.42L918.67 1486.63L919.28 1486.97L919.89 1487.54L920.5 1489.3L920.5 1489.3L919.89 1491.1L919.28 1491.72L918.67 1492.1L918.06 1492.36L917.44 1492.53L916.83 1492.63L916.22 1492.7L915.61 1492.74L915 1492.76L914.39 1492.78L913.78 1492.79L913.17 1492.77L912.56 1492.7L911.94 1492.58L911.33 1492.37L910.72 1492.03L910.11 1491.46L909.5 1489.7Z" fill="#959595"/><path d="M934.5 1489.8L935.44 1488.04L936.39 1487.47L937.33 1487.13L938.28 1486.92L939.22 1486.8L940.17 1486.73L941.11 1486.71L942.06 1486.72L943 1486.74L943.94 1486.76L944.89 1486.8L945.83 1486.87L946.78 1486.97L947.72 1487.14L948.67 1487.4L949.61 1487.78L950.56 1488.4L951.5 1490.2L951.5 1490.2L950.56 1491.96L949.61 1492.53L948.67 1492.87L947.72 1493.08L946.78 1493.2L945.83 1493.27L944.89 1493.29L943.94 1493.28L943 1493.26L942.06 1493.24L941.11 1493.2L940.17 1493.13L939.22 1493.03L938.28 1492.86L937.33 1492.6L936.39 1492.22L935.44 1491.6L934.5 1489.8Z" fill="#999999"/><path d="M973 1490L975.36 1488.33L977.72 1487.6L980.08 1487.09L982.44 1486.71L984.81 1486.43L987.17 1486.23L989.53 1486.09L991.89 1486.01L994.25 1485.96L996.61 1485.95L998.97 1485.98L1001.33 1486.07L1003.69 1486.21L1006.06 1486.44L1008.42 1486.76L1010.78 1487.22L1013.14 1487.88L1015.5 1489.5L1015.5 1489.5L1013.14 1490.65L1010.78 1490.91L1008.42 1491.02L1006.06 1491.06L1003.69 1491.06L1001.33 1491.05L998.97 1491.03L996.61 1491.02L994.25 1491.04L991.89 1491.08L989.53 1491.14L987.17 1491.21L984.81 1491.28L982.44 1491.33L980.08 1491.35L977.72 1491.3L975.36 1491.09L973 1490Z" fill="#aeaeae"/><path d="M973.5 1490.2L974.03 1488.4L974.56 1487.78L975.08 1487.4L975.61 1487.14L976.14 1486.97L976.67 1486.87L977.19 1486.8L977.72 1486.76L978.25 1486.74L978.78 1486.72L979.31 1486.71L979.83 1486.73L980.36 1486.8L980.89 1486.92L981.42 1487.13L981.94 1487.47L982.47 1488.04L983 1489.8L983 1489.8L982.47 1491.6L981.94 1492.22L981.42 1492.6L980.89 1492.86L980.36 1493.03L979.83 1493.13L979.31 1493.2L978.78 1493.24L978.25 1493.26L977.72 1493.28L977.19 1493.29L976.67 1493.27L976.14 1493.2L975.61 1493.08L975.08 1492.87L974.56 1492.53L974.03 1491.96L973.5 1490.2Z" fill="#999999"/><path d="M1001.5 1489.3L1002.28 1487.54L1003.06 1486.97L1003.83 1486.63L1004.61 1486.42L1005.39 1486.3L1006.17 1486.23L1006.94 1486.21L1007.72 1486.22L1008.5 1486.24L1009.28 1486.26L1010.06 1486.3L1010.83 1486.37L1011.61 1486.47L1012.39 1486.64L1013.17 1486.9L1013.94 1487.28L1014.72 1487.9L1015.5 1489.7L1015.5 1489.7L1014.72 1491.46L1013.94 1492.03L1013.17 1492.37L1012.39 1492.58L1011.61 1492.7L1010.83 1492.77L1010.06 1492.79L1009.28 1492.78L1008.5 1492.76L1007.72 1492.74L1006.94 1492.7L1006.17 1492.63L1005.39 1492.53L1004.61 1492.36L1003.83 1492.1L1003.06 1491.72L1002.28 1491.1L1001.5 1489.3Z" fill="#9e9e9e"/><path d="M1037 1488.8L1039.44 1487.05L1041.89 1486.25L1044.33 1485.65L1046.78 1485.17L1049.22 1484.78L1051.67 1484.45L1054.11 1484.19L1056.56 1483.96L1059 1483.76L1061.44 1483.59L1063.89 1483.45L1066.33 1483.35L1068.78 1483.31L1071.22 1483.34L1073.67 1483.45L1076.11 1483.68L1078.56 1484.12L1081 1485.5L1081 1485.5L1078.56 1486.89L1076.11 1487.38L1073.67 1487.71L1071.22 1487.96L1068.78 1488.16L1066.33 1488.33L1063.89 1488.5L1061.44 1488.66L1059 1488.84L1056.56 1489.03L1054.11 1489.23L1051.67 1489.43L1049.22 1489.62L1046.78 1489.79L1044.33 1489.91L1041.89 1489.94L1039.44 1489.82L1037 1488.8Z" fill="#a3a3a3"/><path d="M1037.5 1489L1038.08 1487.21L1038.67 1486.61L1039.25 1486.23L1039.83 1485.98L1040.42 1485.81L1041 1485.7L1041.58 1485.63L1042.17 1485.58L1042.75 1485.54L1043.33 1485.5L1043.92 1485.47L1044.5 1485.47L1045.08 1485.5L1045.67 1485.59L1046.25 1485.76L1046.83 1486.06L1047.42 1486.59L1048 1488.3L1048 1488.3L1047.42 1490.15L1046.83 1490.81L1046.25 1491.24L1045.67 1491.53L1045.08 1491.73L1044.5 1491.87L1043.92 1491.96L1043.33 1492.02L1042.75 1492.06L1042.17 1492.1L1041.58 1492.11L1041 1492.1L1040.42 1492.04L1039.83 1491.92L1039.25 1491.7L1038.67 1491.36L1038.08 1490.77L1037.5 1489Z" fill="#8e8e8e"/><path d="M1066.5 1485.8L1067.33 1483.98L1068.17 1483.35L1069 1482.95L1069.83 1482.68L1070.67 1482.5L1071.5 1482.39L1072.33 1482.31L1073.17 1482.27L1074 1482.24L1074.83 1482.21L1075.67 1482.2L1076.5 1482.22L1077.33 1482.28L1078.17 1482.41L1079 1482.62L1079.83 1482.96L1080.67 1483.54L1081.5 1485.3L1081.5 1485.3L1080.67 1487.1L1079.83 1487.71L1079 1488.09L1078.17 1488.35L1077.33 1488.51L1076.5 1488.62L1075.67 1488.69L1074.83 1488.73L1074 1488.76L1073.17 1488.79L1072.33 1488.8L1071.5 1488.79L1070.67 1488.74L1069.83 1488.62L1069 1488.43L1068.17 1488.1L1067.33 1487.54L1066.5 1485.8Z" fill="#929292"/><path d="M1102 1484.5L1104.33 1482.82L1106.67 1482.08L1109 1481.54L1111.33 1481.12L1113.67 1480.8L1116 1480.54L1118.33 1480.34L1120.67 1480.19L1123 1480.06L1125.33 1479.96L1127.67 1479.9L1130 1479.88L1132.33 1479.91L1134.67 1480.01L1137 1480.2L1139.33 1480.52L1141.67 1481.04L1144 1482.5L1144 1482.5L1141.67 1483.81L1139.33 1484.21L1137 1484.46L1134.67 1484.63L1132.33 1484.76L1130 1484.86L1127.67 1484.95L1125.33 1485.04L1123 1485.14L1120.67 1485.26L1118.33 1485.39L1116 1485.52L1113.67 1485.65L1111.33 1485.74L1109 1485.8L1106.67 1485.77L1104.33 1485.58L1102 1484.5Z" fill="#a3a3a3"/><path d="M1102.5 1484.8L1103.08 1483L1103.67 1482.38L1104.25 1481.99L1104.83 1481.72L1105.42 1481.54L1106 1481.42L1106.58 1481.34L1107.17 1481.28L1107.75 1481.24L1108.33 1481.19L1108.92 1481.16L1109.5 1481.15L1110.08 1481.19L1110.67 1481.28L1111.25 1481.45L1111.83 1481.75L1112.42 1482.29L1113 1484L1113 1484L1112.42 1485.85L1111.83 1486.5L1111.25 1486.93L1110.67 1487.22L1110.08 1487.42L1109.5 1487.56L1108.92 1487.65L1108.33 1487.71L1107.75 1487.76L1107.17 1487.8L1106.58 1487.83L1106 1487.82L1105.42 1487.77L1104.83 1487.66L1104.25 1487.46L1103.67 1487.12L1103.08 1486.56L1102.5 1484.8Z" fill="#898989"/><path d="M1129 1482.5L1129.86 1480.72L1130.72 1480.13L1131.58 1479.76L1132.44 1479.53L1133.31 1479.38L1134.17 1479.3L1135.03 1479.26L1135.89 1479.24L1136.75 1479.24L1137.61 1479.24L1138.47 1479.26L1139.33 1479.3L1140.19 1479.38L1141.06 1479.53L1141.92 1479.76L1142.78 1480.13L1143.64 1480.72L1144.5 1482.5L1144.5 1482.5L1143.64 1484.28L1142.78 1484.87L1141.92 1485.24L1141.06 1485.47L1140.19 1485.62L1139.33 1485.7L1138.47 1485.74L1137.61 1485.76L1136.75 1485.76L1135.89 1485.76L1135.03 1485.74L1134.17 1485.7L1133.31 1485.62L1132.44 1485.47L1131.58 1485.24L1130.72 1484.87L1129.86 1484.28L1129 1482.5Z" fill="#8e8e8e"/><path d="M1165 1482L1167.44 1479.82L1169.89 1478.85L1172.33 1478.15L1174.78 1477.62L1177.22 1477.2L1179.67 1476.89L1182.11 1476.65L1184.56 1476.47L1187 1476.34L1189.44 1476.25L1191.89 1476.2L1194.33 1476.22L1196.78 1476.32L1199.22 1476.51L1201.67 1476.82L1204.11 1477.3L1206.56 1478.04L1209 1480L1209 1480L1206.56 1481.6L1204.11 1482.04L1201.67 1482.29L1199.22 1482.45L1196.78 1482.55L1194.33 1482.62L1191.89 1482.69L1189.44 1482.77L1187 1482.86L1184.56 1482.99L1182.11 1483.14L1179.67 1483.29L1177.22 1483.44L1174.78 1483.56L1172.33 1483.63L1169.89 1483.6L1167.44 1483.38L1165 1482Z" fill="#808080"/><path d="M1230 1478L1232.5 1475.59L1235 1474.58L1237.5 1473.88L1240 1473.38L1242.5 1473.03L1245 1472.78L1247.5 1472.62L1250 1472.54L1252.5 1472.52L1255 1472.55L1257.5 1472.65L1260 1472.82L1262.5 1473.09L1265 1473.48L1267.5 1474.03L1270 1474.8L1272.5 1475.97L1275 1478.8L1275 1478.8L1272.5 1480.24L1270 1480.17L1267.5 1479.86L1265 1479.48L1262.5 1479.09L1260 1478.74L1257.5 1478.44L1255 1478.22L1252.5 1478.08L1250 1478.05L1247.5 1478.11L1245 1478.24L1242.5 1478.44L1240 1478.69L1237.5 1478.94L1235 1479.15L1232.5 1479.19L1230 1478Z" fill="#909090"/><path d="M1294 1478L1296.5 1475.71L1299 1474.75L1301.5 1474.1L1304 1473.64L1306.5 1473.32L1309 1473.1L1311.5 1472.98L1314 1472.92L1316.5 1472.93L1319 1472.99L1321.5 1473.12L1324 1473.32L1326.5 1473.61L1329 1474.02L1331.5 1474.59L1334 1475.38L1336.5 1476.54L1339 1479.3L1339 1479.3L1336.5 1480.64L1334 1480.52L1331.5 1480.19L1329 1479.78L1326.5 1479.37L1324 1478.99L1321.5 1478.67L1319 1478.43L1316.5 1478.27L1314 1478.21L1311.5 1478.23L1309 1478.34L1306.5 1478.51L1304 1478.72L1301.5 1478.95L1299 1479.13L1296.5 1479.16L1294 1478Z" fill="#959595"/></g>
</g>
<g clip-path="url(#rc7)">
<g filter="url(#bl1)" fill="#000" opacity="0.2"><path d="M583.5 1534L586.72 1530.29L589.94 1529.19L593.17 1528.58L596.39 1528.24L599.61 1528.06L602.83 1527.99L606.06 1527.98L609.28 1528.01L612.5 1528.05L615.72 1528.07L618.94 1528.09L622.17 1528.15L625.39 1528.28L628.61 1528.52L631.83 1528.92L635.06 1529.58L638.28 1530.74L641.5 1534.5L641.5 1534.5L638.28 1538.65L635.06 1540.13L631.83 1541.08L628.61 1541.71L625.39 1542.13L622.17 1542.38L618.94 1542.51L615.72 1542.56L612.5 1542.55L609.28 1542.5L606.06 1542.4L602.83 1542.21L599.61 1541.91L596.39 1541.44L593.17 1540.75L589.94 1539.75L586.72 1538.2L583.5 1534Z"/><path d="M653.5 1535L656.31 1530.67L659.11 1529.31L661.92 1528.51L664.72 1528.03L667.53 1527.75L670.33 1527.61L673.14 1527.56L675.94 1527.57L678.75 1527.6L681.56 1527.63L684.36 1527.67L687.17 1527.78L689.97 1527.97L692.78 1528.31L695.58 1528.84L698.39 1529.69L701.19 1531.11L704 1535.5L704 1535.5L701.19 1540.06L698.39 1541.63L695.58 1542.6L692.78 1543.23L689.97 1543.63L687.17 1543.87L684.36 1543.98L681.56 1544.02L678.75 1544L675.94 1543.96L673.14 1543.87L670.33 1543.7L667.53 1543.41L664.72 1542.96L661.92 1542.27L659.11 1541.24L656.31 1539.62L653.5 1535Z"/><path d="M716.5 1535.5L719.28 1531.29L722.06 1529.88L724.83 1529.02L727.61 1528.47L730.39 1528.12L733.17 1527.92L735.94 1527.82L738.72 1527.78L741.5 1527.78L744.28 1527.78L747.06 1527.82L749.83 1527.92L752.61 1528.12L755.39 1528.47L758.17 1529.02L760.94 1529.88L763.72 1531.29L766.5 1535.5L766.5 1535.5L763.72 1539.71L760.94 1541.12L758.17 1541.98L755.39 1542.53L752.61 1542.88L749.83 1543.08L747.06 1543.18L744.28 1543.22L741.5 1543.22L738.72 1543.22L735.94 1543.18L733.17 1543.08L730.39 1542.88L727.61 1542.53L724.83 1541.98L722.06 1541.12L719.28 1539.71L716.5 1535.5Z"/><path d="M778.5 1535.5L781.31 1531.29L784.11 1529.88L786.92 1529.02L789.72 1528.47L792.53 1528.12L795.33 1527.92L798.14 1527.82L800.94 1527.78L803.75 1527.78L806.56 1527.78L809.36 1527.82L812.17 1527.92L814.97 1528.12L817.78 1528.47L820.58 1529.02L823.39 1529.88L826.19 1531.29L829 1535.5L829 1535.5L826.19 1539.71L823.39 1541.12L820.58 1541.98L817.78 1542.53L814.97 1542.88L812.17 1543.08L809.36 1543.18L806.56 1543.22L803.75 1543.22L800.94 1543.22L798.14 1543.18L795.33 1543.08L792.53 1542.88L789.72 1542.53L786.92 1541.98L784.11 1541.12L781.31 1539.71L778.5 1535.5Z"/><path d="M842.3 1535L845.03 1530.9L847.77 1529.52L850.5 1528.66L853.23 1528.11L855.97 1527.75L858.7 1527.53L861.43 1527.41L864.17 1527.34L866.9 1527.31L869.63 1527.29L872.37 1527.3L875.1 1527.36L877.83 1527.53L880.57 1527.83L883.3 1528.33L886.03 1529.13L888.77 1530.45L891.5 1534.5L891.5 1534.5L888.77 1538.62L886.03 1540.02L883.3 1540.89L880.57 1541.46L877.83 1541.83L875.1 1542.06L872.37 1542.19L869.63 1542.25L866.9 1542.29L864.17 1542.31L861.43 1542.3L858.7 1542.23L855.97 1542.05L853.23 1541.74L850.5 1541.23L847.77 1540.41L845.03 1539.07L842.3 1535Z"/><path d="M904.5 1534L907.32 1529.79L910.14 1528.38L912.97 1527.52L915.79 1526.97L918.61 1526.62L921.43 1526.42L924.26 1526.32L927.08 1526.28L929.9 1526.28L932.72 1526.28L935.54 1526.32L938.37 1526.42L941.19 1526.62L944.01 1526.97L946.83 1527.52L949.66 1528.38L952.48 1529.79L955.3 1534L955.3 1534L952.48 1538.21L949.66 1539.62L946.83 1540.48L944.01 1541.03L941.19 1541.38L938.37 1541.58L935.54 1541.68L932.72 1541.72L929.9 1541.72L927.08 1541.72L924.26 1541.68L921.43 1541.58L918.61 1541.38L915.79 1541.03L912.97 1540.48L910.14 1539.62L907.32 1538.21L904.5 1534Z"/><path d="M968.5 1533L971.14 1529.04L973.78 1527.72L976.42 1526.92L979.06 1526.4L981.69 1526.08L984.33 1525.89L986.97 1525.79L989.61 1525.75L992.25 1525.75L994.89 1525.75L997.53 1525.79L1000.17 1525.89L1002.81 1526.08L1005.44 1526.4L1008.08 1526.92L1010.72 1527.72L1013.36 1529.04L1016 1533L1016 1533L1013.36 1536.96L1010.72 1538.28L1008.08 1539.08L1005.44 1539.6L1002.81 1539.92L1000.17 1540.11L997.53 1540.21L994.89 1540.25L992.25 1540.25L989.61 1540.25L986.97 1540.21L984.33 1540.11L981.69 1539.92L979.06 1539.6L976.42 1539.08L973.78 1538.28L971.14 1536.96L968.5 1533Z"/><path d="M1028.5 1533.5L1031.42 1529.03L1034.33 1527.53L1037.25 1526.62L1040.17 1526.04L1043.08 1525.67L1046 1525.45L1048.92 1525.35L1051.83 1525.31L1054.75 1525.3L1057.67 1525.31L1060.58 1525.35L1063.5 1525.45L1066.42 1525.67L1069.33 1526.04L1072.25 1526.62L1075.17 1527.53L1078.08 1529.03L1081 1533.5L1081 1533.5L1078.08 1537.97L1075.17 1539.47L1072.25 1540.38L1069.33 1540.96L1066.42 1541.33L1063.5 1541.55L1060.58 1541.65L1057.67 1541.69L1054.75 1541.7L1051.83 1541.69L1048.92 1541.65L1046 1541.55L1043.08 1541.33L1040.17 1540.96L1037.25 1540.38L1034.33 1539.47L1031.42 1537.97L1028.5 1533.5Z"/><path d="M1092.3 1533L1095.11 1528.79L1097.91 1527.38L1100.72 1526.52L1103.52 1525.97L1106.33 1525.62L1109.13 1525.42L1111.94 1525.32L1114.74 1525.28L1117.55 1525.28L1120.36 1525.28L1123.16 1525.32L1125.97 1525.42L1128.77 1525.62L1131.58 1525.97L1134.38 1526.52L1137.19 1527.38L1139.99 1528.79L1142.8 1533L1142.8 1533L1139.99 1537.21L1137.19 1538.62L1134.38 1539.48L1131.58 1540.03L1128.77 1540.38L1125.97 1540.58L1123.16 1540.68L1120.36 1540.72L1117.55 1540.72L1114.74 1540.72L1111.94 1540.68L1109.13 1540.58L1106.33 1540.38L1103.52 1540.03L1100.72 1539.48L1097.91 1538.62L1095.11 1537.21L1092.3 1533Z"/><path d="M1154.8 1533.5L1157.67 1529.41L1160.54 1528.05L1163.42 1527.22L1166.29 1526.68L1169.16 1526.35L1172.03 1526.15L1174.91 1526.05L1177.78 1526.02L1180.65 1526.01L1183.52 1526.02L1186.39 1526.05L1189.27 1526.15L1192.14 1526.35L1195.01 1526.68L1197.88 1527.22L1200.76 1528.05L1203.63 1529.41L1206.5 1533.5L1206.5 1533.5L1203.63 1537.59L1200.76 1538.95L1197.88 1539.78L1195.01 1540.32L1192.14 1540.65L1189.27 1540.85L1186.39 1540.95L1183.52 1540.98L1180.65 1540.99L1177.78 1540.98L1174.91 1540.95L1172.03 1540.85L1169.16 1540.65L1166.29 1540.32L1163.42 1539.78L1160.54 1538.95L1157.67 1537.59L1154.8 1533.5Z"/><path d="M1217.3 1533.5L1220.2 1529.03L1223.1 1527.53L1226 1526.62L1228.9 1526.04L1231.8 1525.67L1234.7 1525.45L1237.6 1525.35L1240.5 1525.31L1243.4 1525.3L1246.3 1525.31L1249.2 1525.35L1252.1 1525.45L1255 1525.67L1257.9 1526.04L1260.8 1526.62L1263.7 1527.53L1266.6 1529.03L1269.5 1533.5L1269.5 1533.5L1266.6 1537.97L1263.7 1539.47L1260.8 1540.38L1257.9 1540.96L1255 1541.33L1252.1 1541.55L1249.2 1541.65L1246.3 1541.69L1243.4 1541.7L1240.5 1541.69L1237.6 1541.65L1234.7 1541.55L1231.8 1541.33L1228.9 1540.96L1226 1540.38L1223.1 1539.47L1220.2 1537.97L1217.3 1533.5Z"/><path d="M1280.5 1534L1283.47 1529.79L1286.44 1528.38L1289.42 1527.52L1292.39 1526.97L1295.36 1526.62L1298.33 1526.42L1301.31 1526.32L1304.28 1526.28L1307.25 1526.28L1310.22 1526.28L1313.19 1526.32L1316.17 1526.42L1319.14 1526.62L1322.11 1526.97L1325.08 1527.52L1328.06 1528.38L1331.03 1529.79L1334 1534L1334 1534L1331.03 1538.21L1328.06 1539.62L1325.08 1540.48L1322.11 1541.03L1319.14 1541.38L1316.17 1541.58L1313.19 1541.68L1310.22 1541.72L1307.25 1541.72L1304.28 1541.72L1301.31 1541.68L1298.33 1541.58L1295.36 1541.38L1292.39 1541.03L1289.42 1540.48L1286.44 1539.62L1283.47 1538.21L1280.5 1534Z"/></g>
<g filter="url(#bl8)"><path d="M585 1533L588.06 1529.69L591.11 1529.15L594.17 1529.06L597.22 1529.13L600.28 1529.24L603.33 1529.35L606.39 1529.44L609.44 1529.51L612.5 1529.55L615.56 1529.56L618.61 1529.55L621.67 1529.52L624.72 1529.46L627.78 1529.4L630.83 1529.39L633.89 1529.54L636.94 1530.13L640 1533.5L640 1533.5L636.94 1537.25L633.89 1538.18L630.83 1538.61L627.78 1538.83L624.72 1538.95L621.67 1539.02L618.61 1539.05L615.56 1539.06L612.5 1539.05L609.44 1539.01L606.39 1538.94L603.33 1538.85L600.28 1538.72L597.22 1538.55L594.17 1538.28L591.11 1537.79L588.06 1536.81L585 1533Z" fill="#000"/><path d="M655 1534L657.64 1529.87L660.28 1529.09L662.92 1528.86L665.56 1528.84L668.19 1528.89L670.83 1528.96L673.47 1529.02L676.11 1529.07L678.75 1529.1L681.39 1529.12L684.03 1529.13L686.67 1529.12L689.31 1529.11L691.94 1529.12L694.58 1529.19L697.22 1529.48L699.86 1530.32L702.5 1534.5L702.5 1534.5L699.86 1538.86L697.22 1539.85L694.58 1540.25L691.94 1540.42L689.31 1540.49L686.67 1540.52L684.03 1540.53L681.39 1540.52L678.75 1540.5L676.11 1540.47L673.47 1540.42L670.83 1540.35L668.19 1540.27L665.56 1540.14L662.92 1539.92L660.28 1539.46L657.64 1538.41L655 1534Z" fill="#000"/><path d="M718 1534.5L720.61 1530.58L723.22 1529.75L725.83 1529.43L728.44 1529.32L731.06 1529.28L733.67 1529.28L736.28 1529.28L738.89 1529.28L741.5 1529.28L744.11 1529.28L746.72 1529.28L749.33 1529.28L751.94 1529.28L754.56 1529.32L757.17 1529.43L759.78 1529.75L762.39 1530.58L765 1534.5L765 1534.5L762.39 1538.42L759.78 1539.25L757.17 1539.57L754.56 1539.68L751.94 1539.72L749.33 1539.72L746.72 1539.72L744.11 1539.72L741.5 1539.72L738.89 1539.72L736.28 1539.72L733.67 1539.72L731.06 1539.72L728.44 1539.68L725.83 1539.57L723.22 1539.25L720.61 1538.42L718 1534.5Z" fill="#000"/><path d="M780 1534.5L782.64 1530.58L785.28 1529.75L787.92 1529.43L790.56 1529.32L793.19 1529.28L795.83 1529.28L798.47 1529.28L801.11 1529.28L803.75 1529.28L806.39 1529.28L809.03 1529.28L811.67 1529.28L814.31 1529.28L816.94 1529.32L819.58 1529.43L822.22 1529.75L824.86 1530.58L827.5 1534.5L827.5 1534.5L824.86 1538.42L822.22 1539.25L819.58 1539.57L816.94 1539.68L814.31 1539.72L811.67 1539.72L809.03 1539.72L806.39 1539.72L803.75 1539.72L801.11 1539.72L798.47 1539.72L795.83 1539.72L793.19 1539.72L790.56 1539.68L787.92 1539.57L785.28 1539.25L782.64 1538.42L780 1534.5Z" fill="#000"/><path d="M843.8 1534L846.37 1530.25L848.93 1529.43L851.5 1529.11L854.07 1528.98L856.63 1528.92L859.2 1528.89L861.77 1528.87L864.33 1528.84L866.9 1528.81L869.47 1528.78L872.03 1528.75L874.6 1528.72L877.17 1528.7L879.73 1528.7L882.3 1528.77L884.87 1529.04L887.43 1529.8L890 1533.5L890 1533.5L887.43 1537.28L884.87 1538.11L882.3 1538.45L879.73 1538.59L877.17 1538.66L874.6 1538.7L872.03 1538.73L869.47 1538.76L866.9 1538.79L864.33 1538.81L861.77 1538.84L859.2 1538.86L856.63 1538.88L854.07 1538.87L851.5 1538.78L848.93 1538.5L846.37 1537.72L843.8 1534Z" fill="#000"/><path d="M906 1533L908.66 1529.08L911.31 1528.25L913.97 1527.93L916.62 1527.82L919.28 1527.78L921.93 1527.78L924.59 1527.78L927.24 1527.78L929.9 1527.78L932.56 1527.78L935.21 1527.78L937.87 1527.78L940.52 1527.78L943.18 1527.82L945.83 1527.93L948.49 1528.25L951.14 1529.08L953.8 1533L953.8 1533L951.14 1536.92L948.49 1537.75L945.83 1538.07L943.18 1538.18L940.52 1538.22L937.87 1538.22L935.21 1538.22L932.56 1538.22L929.9 1538.22L927.24 1538.22L924.59 1538.22L921.93 1538.22L919.28 1538.22L916.62 1538.18L913.97 1538.07L911.31 1537.75L908.66 1536.92L906 1533Z" fill="#000"/><path d="M970 1532L972.47 1528.44L974.94 1527.68L977.42 1527.39L979.89 1527.29L982.36 1527.26L984.83 1527.25L987.31 1527.25L989.78 1527.25L992.25 1527.25L994.72 1527.25L997.19 1527.25L999.67 1527.25L1002.14 1527.26L1004.61 1527.29L1007.08 1527.39L1009.56 1527.68L1012.03 1528.44L1014.5 1532L1014.5 1532L1012.03 1535.56L1009.56 1536.32L1007.08 1536.61L1004.61 1536.71L1002.14 1536.74L999.67 1536.75L997.19 1536.75L994.72 1536.75L992.25 1536.75L989.78 1536.75L987.31 1536.75L984.83 1536.75L982.36 1536.74L979.89 1536.71L977.42 1536.61L974.94 1536.32L972.47 1535.56L970 1532Z" fill="#000"/><path d="M1030 1532.5L1032.75 1528.23L1035.5 1527.31L1038.25 1526.97L1041 1526.85L1043.75 1526.81L1046.5 1526.8L1049.25 1526.8L1052 1526.8L1054.75 1526.8L1057.5 1526.8L1060.25 1526.8L1063 1526.8L1065.75 1526.81L1068.5 1526.85L1071.25 1526.97L1074 1527.31L1076.75 1528.23L1079.5 1532.5L1079.5 1532.5L1076.75 1536.77L1074 1537.69L1071.25 1538.03L1068.5 1538.15L1065.75 1538.19L1063 1538.2L1060.25 1538.2L1057.5 1538.2L1054.75 1538.2L1052 1538.2L1049.25 1538.2L1046.5 1538.2L1043.75 1538.19L1041 1538.15L1038.25 1538.03L1035.5 1537.69L1032.75 1536.77L1030 1532.5Z" fill="#000"/><path d="M1093.8 1532L1096.44 1528.08L1099.08 1527.25L1101.72 1526.93L1104.36 1526.82L1106.99 1526.78L1109.63 1526.78L1112.27 1526.78L1114.91 1526.78L1117.55 1526.78L1120.19 1526.78L1122.83 1526.78L1125.47 1526.78L1128.11 1526.78L1130.74 1526.82L1133.38 1526.93L1136.02 1527.25L1138.66 1528.08L1141.3 1532L1141.3 1532L1138.66 1535.92L1136.02 1536.75L1133.38 1537.07L1130.74 1537.18L1128.11 1537.22L1125.47 1537.22L1122.83 1537.22L1120.19 1537.22L1117.55 1537.22L1114.91 1537.22L1112.27 1537.22L1109.63 1537.22L1106.99 1537.22L1104.36 1537.18L1101.72 1537.07L1099.08 1536.75L1096.44 1535.92L1093.8 1532Z" fill="#000"/><path d="M1156.3 1532.5L1159.01 1528.76L1161.71 1527.96L1164.42 1527.66L1167.12 1527.55L1169.83 1527.52L1172.53 1527.51L1175.24 1527.51L1177.94 1527.51L1180.65 1527.51L1183.36 1527.51L1186.06 1527.51L1188.77 1527.51L1191.47 1527.52L1194.18 1527.55L1196.88 1527.66L1199.59 1527.96L1202.29 1528.76L1205 1532.5L1205 1532.5L1202.29 1536.24L1199.59 1537.04L1196.88 1537.34L1194.18 1537.45L1191.47 1537.48L1188.77 1537.49L1186.06 1537.49L1183.36 1537.49L1180.65 1537.49L1177.94 1537.49L1175.24 1537.49L1172.53 1537.49L1169.83 1537.48L1167.12 1537.45L1164.42 1537.34L1161.71 1537.04L1159.01 1536.24L1156.3 1532.5Z" fill="#000"/><path d="M1218.8 1532.5L1221.53 1528.23L1224.27 1527.31L1227 1526.97L1229.73 1526.85L1232.47 1526.81L1235.2 1526.8L1237.93 1526.8L1240.67 1526.8L1243.4 1526.8L1246.13 1526.8L1248.87 1526.8L1251.6 1526.8L1254.33 1526.81L1257.07 1526.85L1259.8 1526.97L1262.53 1527.31L1265.27 1528.23L1268 1532.5L1268 1532.5L1265.27 1536.77L1262.53 1537.69L1259.8 1538.03L1257.07 1538.15L1254.33 1538.19L1251.6 1538.2L1248.87 1538.2L1246.13 1538.2L1243.4 1538.2L1240.67 1538.2L1237.93 1538.2L1235.2 1538.2L1232.47 1538.19L1229.73 1538.15L1227 1538.03L1224.27 1537.69L1221.53 1536.77L1218.8 1532.5Z" fill="#000"/><path d="M1282 1533L1284.81 1529.08L1287.61 1528.25L1290.42 1527.93L1293.22 1527.82L1296.03 1527.78L1298.83 1527.78L1301.64 1527.78L1304.44 1527.78L1307.25 1527.78L1310.06 1527.78L1312.86 1527.78L1315.67 1527.78L1318.47 1527.78L1321.28 1527.82L1324.08 1527.93L1326.89 1528.25L1329.69 1529.08L1332.5 1533L1332.5 1533L1329.69 1536.92L1326.89 1537.75L1324.08 1538.07L1321.28 1538.18L1318.47 1538.22L1315.67 1538.22L1312.86 1538.22L1310.06 1538.22L1307.25 1538.22L1304.44 1538.22L1301.64 1538.22L1298.83 1538.22L1296.03 1538.22L1293.22 1538.18L1290.42 1538.07L1287.61 1537.75L1284.81 1536.92L1282 1533Z" fill="#000"/></g>
</g>
<path d="M573.2 1190.6H1344.1M573.2 1237.5H1344.1M573.2 1280.7H1344.1M573.2 1324.3H1344.1M573.2 1371.5H1344.1M573.2 1415H1344.1M573.2 1462.7H1344.1M573.2 1507.8H1344.1M573.2 1563.6H1344.1M573.2 1189.1V1565.1M1344.1 1189.1V1565.1" fill="none" stroke="#000" stroke-width="3.2"/>
<path d="M573.2 1462.7H1344.1" stroke="#000" stroke-width="4.7" fill="none"/>
<path d="M587.4 1185V1165.5H764.4V1185M773.2 1185V1165.5H950.8V1185M958.9 1185V1165.5H1135.9V1185M1145.2 1185V1165.5H1332.1V1185" fill="none" stroke="#000" stroke-width="3.2" stroke-linecap="round" stroke-linejoin="miter"/>
<g font-size="35.6" text-anchor="middle">
<text x="675.9" y="1156.6">CON-SED</text>
<text x="862" y="1156.6">CON-EX</text>
<text x="1049.7" y="1156.6">SJL-SED</text>
<text x="1231.4" y="1156.6">SJL-EX</text>
</g>
<g font-size="25.7" text-anchor="end">
<text x="568.1" y="1224.35">C-V</text>
<text x="567.1" y="1270.1">C-III</text>
<text x="568.8" y="1314.35">C-IV</text>
<text x="567.4" y="1360.6">C-II</text>
<text x="566.2" y="1405.3">C-I</text>
<text x="567.4" y="1449.4">NSB</text>
<text x="567.4" y="1495.9">PGC-1α</text>
<text x="563.6" y="1544.8">α-TUB</text>
</g>
<text x="517.1" y="1145" font-size="52" font-weight="bold">G</text>
</g>
</svg>
</body>
</html>
